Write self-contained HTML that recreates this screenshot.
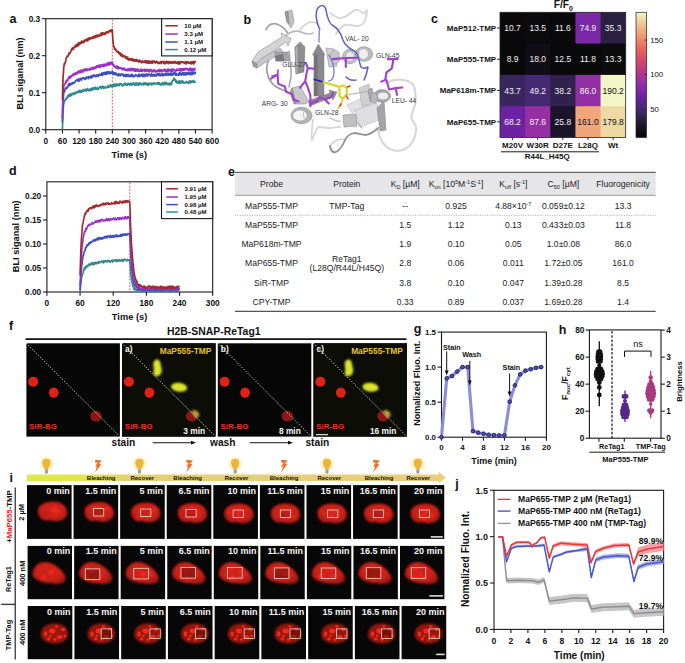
<!DOCTYPE html>
<html><head><meta charset="utf-8"><style>
html,body{margin:0;padding:0;background:#fff;}
svg{display:block;font-family:"Liberation Sans", sans-serif;}
</style></head><body>
<svg width="685" height="663" viewBox="0 0 685 663">
<defs>
<filter id="bl1" x="-50%" y="-50%" width="200%" height="200%"><feGaussianBlur stdDeviation="0.9"/></filter>
<radialGradient id="nucA" cx="0.5" cy="0.45" r="0.6"><stop offset="0" stop-color="#d8261c"/><stop offset="0.65" stop-color="#c82018"/><stop offset="1" stop-color="#961610"/></radialGradient>
<radialGradient id="nucC" cx="0.5" cy="0.5" r="0.6"><stop offset="0" stop-color="#a01a12"/><stop offset="0.75" stop-color="#921810"/><stop offset="1" stop-color="#6e100a"/></radialGradient>
<filter id="bl07" x="-50%" y="-50%" width="200%" height="200%"><feGaussianBlur stdDeviation="0.7"/></filter>
<filter id="bl05" x="-50%" y="-50%" width="200%" height="200%"><feGaussianBlur stdDeviation="0.6"/></filter>
</defs>
<rect width="685" height="663" fill="#fff"/>
<text x="9.6" y="22.6" font-size="12.5" font-weight="bold" text-anchor="start" fill="#111">a</text>
<rect x="45.8" y="18.7" width="166.3" height="110.99999999999999" fill="none" stroke="#1a1a1a" stroke-width="1.1"/>
<line x1="41.8" y1="129.7" x2="45.8" y2="129.7" stroke="#1a1a1a" stroke-width="1.1"/>
<text x="40.2" y="132.7" font-size="8.3" font-weight="bold" text-anchor="end" fill="#111">0.0</text>
<line x1="41.8" y1="92.69999999999999" x2="45.8" y2="92.69999999999999" stroke="#1a1a1a" stroke-width="1.1"/>
<text x="40.2" y="95.69999999999999" font-size="8.3" font-weight="bold" text-anchor="end" fill="#111">0.1</text>
<line x1="41.8" y1="55.69999999999999" x2="45.8" y2="55.69999999999999" stroke="#1a1a1a" stroke-width="1.1"/>
<text x="40.2" y="58.69999999999999" font-size="8.3" font-weight="bold" text-anchor="end" fill="#111">0.2</text>
<line x1="41.8" y1="18.69999999999999" x2="45.8" y2="18.69999999999999" stroke="#1a1a1a" stroke-width="1.1"/>
<text x="40.2" y="21.69999999999999" font-size="8.3" font-weight="bold" text-anchor="end" fill="#111">0.3</text>
<line x1="45.8" y1="129.7" x2="45.8" y2="133.5" stroke="#1a1a1a" stroke-width="1.1"/>
<text x="45.8" y="143.5" font-size="8.3" font-weight="bold" text-anchor="middle" fill="#111">0</text>
<line x1="62.42999999999999" y1="129.7" x2="62.42999999999999" y2="133.5" stroke="#1a1a1a" stroke-width="1.1"/>
<text x="62.42999999999999" y="143.5" font-size="8.3" font-weight="bold" text-anchor="middle" fill="#111">60</text>
<line x1="79.06" y1="129.7" x2="79.06" y2="133.5" stroke="#1a1a1a" stroke-width="1.1"/>
<text x="79.06" y="143.5" font-size="8.3" font-weight="bold" text-anchor="middle" fill="#111">120</text>
<line x1="95.69" y1="129.7" x2="95.69" y2="133.5" stroke="#1a1a1a" stroke-width="1.1"/>
<text x="95.69" y="143.5" font-size="8.3" font-weight="bold" text-anchor="middle" fill="#111">180</text>
<line x1="112.32" y1="129.7" x2="112.32" y2="133.5" stroke="#1a1a1a" stroke-width="1.1"/>
<text x="112.32" y="143.5" font-size="8.3" font-weight="bold" text-anchor="middle" fill="#111">240</text>
<line x1="128.95" y1="129.7" x2="128.95" y2="133.5" stroke="#1a1a1a" stroke-width="1.1"/>
<text x="128.95" y="143.5" font-size="8.3" font-weight="bold" text-anchor="middle" fill="#111">300</text>
<line x1="145.58" y1="129.7" x2="145.58" y2="133.5" stroke="#1a1a1a" stroke-width="1.1"/>
<text x="145.58" y="143.5" font-size="8.3" font-weight="bold" text-anchor="middle" fill="#111">360</text>
<line x1="162.20999999999998" y1="129.7" x2="162.20999999999998" y2="133.5" stroke="#1a1a1a" stroke-width="1.1"/>
<text x="162.20999999999998" y="143.5" font-size="8.3" font-weight="bold" text-anchor="middle" fill="#111">420</text>
<line x1="178.83999999999997" y1="129.7" x2="178.83999999999997" y2="133.5" stroke="#1a1a1a" stroke-width="1.1"/>
<text x="178.83999999999997" y="143.5" font-size="8.3" font-weight="bold" text-anchor="middle" fill="#111">480</text>
<line x1="195.46999999999997" y1="129.7" x2="195.46999999999997" y2="133.5" stroke="#1a1a1a" stroke-width="1.1"/>
<text x="195.46999999999997" y="143.5" font-size="8.3" font-weight="bold" text-anchor="middle" fill="#111">540</text>
<line x1="212.10000000000002" y1="129.7" x2="212.10000000000002" y2="133.5" stroke="#1a1a1a" stroke-width="1.1"/>
<text x="212.10000000000002" y="143.5" font-size="8.3" font-weight="bold" text-anchor="middle" fill="#111">600</text>
<text x="129.3" y="157.6" font-size="9.3" font-weight="bold" text-anchor="middle" fill="#111">Time (s)</text>
<text x="22.6" y="73.5" font-size="9.25" font-weight="bold" text-anchor="middle" fill="#111" transform="rotate(-90 22.6 73.5)">BLI siganal (nm)</text>
<line x1="112.32" y1="19.7" x2="112.32" y2="129.7" stroke="#e8403a" stroke-width="1" stroke-dasharray="1.6,1.6"/>
<path d="M62.43,129.70 L62.76,117.11 L63.10,110.42 L63.43,106.73 L63.76,102.96 L64.09,102.90 L64.43,100.66 L64.76,100.36 L65.09,100.58 L65.42,98.94 L65.76,99.74 L66.09,98.34 L66.42,98.94 L66.75,98.57 L67.09,97.41 L67.42,96.08 L67.75,97.63 L68.08,97.12 L68.42,95.83 L68.75,94.76 L69.08,95.50 L69.41,95.75 L69.75,94.05 L70.08,96.26 L70.41,93.97 L70.75,95.26 L71.08,95.47 L71.41,95.37 L71.74,94.71 L72.08,93.25 L72.41,94.74 L72.74,93.56 L73.07,93.28 L73.41,93.83 L73.74,93.25 L74.07,94.38 L74.40,94.27 L74.74,93.77 L75.07,92.43 L75.40,92.97 L75.73,93.16 L76.07,92.35 L76.40,92.59 L76.73,92.89 L77.06,91.51 L77.40,91.66 L77.73,92.75 L78.06,91.80 L78.39,91.84 L78.73,90.85 L79.06,91.14 L79.39,92.20 L79.73,90.33 L80.06,92.48 L80.39,91.62 L80.72,90.67 L81.06,92.16 L81.39,91.21 L81.72,92.30 L82.05,90.60 L82.39,90.27 L82.72,90.70 L83.05,89.84 L83.38,91.23 L83.72,90.17 L84.05,90.36 L84.38,90.33 L84.71,90.59 L85.05,89.52 L85.38,89.19 L85.71,90.34 L86.04,89.78 L86.38,91.28 L86.71,89.56 L87.04,89.63 L87.37,88.67 L87.71,89.05 L88.04,90.38 L88.37,90.06 L88.71,89.26 L89.04,90.87 L89.37,89.67 L89.70,90.37 L90.04,90.44 L90.37,90.53 L90.70,88.63 L91.03,90.23 L91.37,89.86 L91.70,89.43 L92.03,88.12 L92.36,90.11 L92.70,89.10 L93.03,88.78 L93.36,87.85 L93.69,87.96 L94.03,87.78 L94.36,89.24 L94.69,88.83 L95.02,88.91 L95.36,87.49 L95.69,87.24 L96.02,89.28 L96.36,89.15 L96.69,88.95 L97.02,88.89 L97.35,88.17 L97.69,87.85 L98.02,88.63 L98.35,89.24 L98.68,88.11 L99.02,88.18 L99.35,87.61 L99.68,86.55 L100.01,87.17 L100.35,87.57 L100.68,87.25 L101.01,87.04 L101.34,88.59 L101.68,86.34 L102.01,86.59 L102.34,86.29 L102.67,86.43 L103.01,87.42 L103.34,87.35 L103.67,88.05 L104.00,86.62 L104.34,88.05 L104.67,87.97 L105.00,87.55 L105.34,87.61 L105.67,87.09 L106.00,87.78 L106.33,87.86 L106.67,87.41 L107.00,87.48 L107.33,86.74 L107.66,87.56 L108.00,85.31 L108.33,85.92 L108.66,87.07 L108.99,86.74 L109.33,86.44 L109.66,86.34 L109.99,86.90 L110.32,84.97 L110.66,84.53 L110.99,85.84 L111.32,85.74 L111.65,86.71 L111.99,86.61 L112.32,85.93 L112.65,86.08 L112.99,84.58 L113.32,86.26 L113.65,86.58 L113.98,84.13 L114.32,85.19 L114.65,86.14 L114.98,85.07 L115.31,86.37 L115.65,85.04 L115.98,83.84 L116.31,84.11 L116.64,84.51 L116.98,85.60 L117.31,85.30 L117.64,85.79 L117.97,84.20 L118.31,84.79 L118.64,84.13 L118.97,85.26 L119.30,85.52 L119.64,83.97 L119.97,83.50 L120.30,83.82 L120.63,83.92 L120.97,83.87 L121.30,84.05 L121.63,85.36 L121.97,84.59 L122.30,84.99 L122.63,85.82 L122.96,85.80 L123.30,85.13 L123.63,85.17 L123.96,84.03 L124.29,83.33 L124.63,84.64 L124.96,83.36 L125.29,83.21 L125.62,83.28 L125.96,84.80 L126.29,85.16 L126.62,85.13 L126.95,85.19 L127.29,85.16 L127.62,84.06 L127.95,83.34 L128.28,83.48 L128.62,84.41 L128.95,83.95 L129.28,83.55 L129.62,85.40 L129.95,83.90 L130.28,83.24 L130.61,83.56 L130.95,83.63 L131.28,84.33 L131.61,85.10 L131.94,83.51 L132.28,84.68 L132.61,83.46 L132.94,83.01 L133.27,84.49 L133.61,84.47 L133.94,83.05 L134.27,83.62 L134.60,85.05 L134.94,85.15 L135.27,85.08 L135.60,83.12 L135.93,83.37 L136.27,85.07 L136.60,83.30 L136.93,82.90 L137.26,83.73 L137.60,84.52 L137.93,84.00 L138.26,85.07 L138.60,85.37 L138.93,82.88 L139.26,83.71 L139.59,84.02 L139.93,82.96 L140.26,84.25 L140.59,83.11 L140.92,83.22 L141.26,84.81 L141.59,84.70 L141.92,84.59 L142.25,84.72 L142.59,83.81 L142.92,84.66 L143.25,84.24 L143.58,84.98 L143.92,82.95 L144.25,84.39 L144.58,84.11 L144.91,83.78 L145.25,82.95 L145.58,84.19 L145.91,82.90 L146.25,83.97 L146.58,83.89 L146.91,83.91 L147.24,85.21 L147.58,84.11 L147.91,84.77 L148.24,85.23 L148.57,83.17 L148.91,84.79 L149.24,84.00 L149.57,83.35 L149.90,83.78 L150.24,84.37 L150.57,83.87 L150.90,83.77 L151.23,83.17 L151.57,84.92 L151.90,83.74 L152.23,84.54 L152.56,84.46 L152.90,83.17 L153.23,83.86 L153.56,83.71 L153.89,83.19 L154.23,82.79 L154.56,84.00 L154.89,83.56 L155.23,83.83 L155.56,83.81 L155.89,83.34 L156.22,83.96 L156.56,83.74 L156.89,83.88 L157.22,82.68 L157.55,83.30 L157.89,82.83 L158.22,82.66 L158.55,84.42 L158.88,83.64 L159.22,82.64 L159.55,82.91 L159.88,84.72 L160.21,84.76 L160.55,83.92 L160.88,84.88 L161.21,84.44 L161.54,84.86 L161.88,83.32 L162.21,83.01 L162.54,82.72 L162.88,84.64 L163.21,83.18 L163.54,83.32 L163.87,84.65 L164.21,82.73 L164.54,82.51 L164.87,84.44 L165.20,82.54 L165.54,83.97 L165.87,83.73 L166.20,82.43 L166.53,82.83 L166.87,84.56 L167.20,83.86 L167.53,83.64 L167.86,84.09 L168.20,84.46 L168.53,84.13 L168.86,83.08 L169.19,84.90 L169.53,83.51 L169.86,83.79 L170.19,84.86 L170.52,84.01 L170.86,83.18 L171.19,83.34 L171.52,84.28 L171.86,81.57 L172.19,81.64 L172.52,80.63 L172.85,80.83 L173.19,79.89 L173.52,80.11 L173.85,78.06 L174.18,79.50 L174.52,80.23 L174.85,79.98 L175.18,79.27 L175.51,80.04 L175.85,81.92 L176.18,82.52 L176.51,80.73 L176.84,81.76 L177.18,81.49 L177.51,83.10 L177.84,83.19 L178.17,81.56 L178.51,82.24 L178.84,83.15 L179.17,80.91 L179.51,81.69 L179.84,81.25 L180.17,83.11 L180.50,81.10 L180.84,83.14 L181.17,81.07 L181.50,82.13 L181.83,82.42 L182.17,81.86 L182.50,80.89 L182.83,82.59 L183.16,82.95 L183.50,81.91 L183.83,82.66 L184.16,82.99 L184.49,82.85 L184.83,83.13 L185.16,82.73 L185.49,82.44 L185.82,82.46 L186.16,81.28 L186.49,82.49 L186.82,81.94 L187.15,82.77 L187.49,82.33 L187.82,83.17 L188.15,82.57 L188.49,83.17 L188.82,81.31 L189.15,81.78 L189.48,82.71 L189.82,81.96 L190.15,80.77 L190.48,82.91 L190.81,81.06 L191.15,82.06 L191.48,81.89 L191.81,81.01 L192.14,82.14 L192.48,81.85 L192.81,81.37 L193.14,80.60 L193.47,82.26 L193.81,80.98 L194.14,81.31 L194.47,81.48 L194.80,82.08 L195.14,82.22 L195.47,82.98" fill="none" stroke="#2f8a90" stroke-width="1.7" stroke-linejoin="round"/>
<path d="M62.43,122.30 L62.76,106.28 L63.10,99.67 L63.43,96.07 L63.76,92.31 L64.09,92.35 L64.43,91.74 L64.76,91.27 L65.09,88.74 L65.42,88.15 L65.76,88.20 L66.09,88.76 L66.42,88.44 L66.75,87.91 L67.09,87.09 L67.42,87.51 L67.75,86.42 L68.08,86.56 L68.42,84.44 L68.75,84.11 L69.08,84.92 L69.41,85.43 L69.75,83.30 L70.08,84.74 L70.41,84.38 L70.75,85.07 L71.08,83.86 L71.41,83.40 L71.74,83.12 L72.08,83.70 L72.41,82.73 L72.74,83.84 L73.07,82.99 L73.41,83.26 L73.74,82.30 L74.07,83.06 L74.40,82.95 L74.74,82.07 L75.07,82.11 L75.40,81.05 L75.73,81.06 L76.07,80.35 L76.40,80.46 L76.73,80.18 L77.06,79.63 L77.40,80.78 L77.73,80.83 L78.06,79.00 L78.39,81.05 L78.73,79.45 L79.06,79.55 L79.39,81.00 L79.73,78.84 L80.06,78.59 L80.39,79.17 L80.72,78.79 L81.06,78.49 L81.39,80.14 L81.72,79.05 L82.05,79.00 L82.39,78.05 L82.72,78.04 L83.05,77.89 L83.38,78.42 L83.72,77.54 L84.05,77.99 L84.38,77.87 L84.71,78.99 L85.05,79.42 L85.38,79.07 L85.71,78.39 L86.04,78.97 L86.38,76.99 L86.71,77.63 L87.04,77.36 L87.37,77.29 L87.71,77.06 L88.04,77.48 L88.37,78.65 L88.71,76.52 L89.04,76.56 L89.37,77.12 L89.70,76.96 L90.04,76.56 L90.37,78.01 L90.70,76.20 L91.03,77.37 L91.37,77.75 L91.70,77.18 L92.03,75.90 L92.36,77.18 L92.70,75.72 L93.03,75.03 L93.36,76.20 L93.69,76.41 L94.03,76.09 L94.36,75.48 L94.69,75.19 L95.02,75.50 L95.36,75.36 L95.69,76.74 L96.02,76.49 L96.36,76.13 L96.69,74.79 L97.02,75.85 L97.35,75.09 L97.69,76.46 L98.02,76.26 L98.35,75.64 L98.68,74.52 L99.02,74.39 L99.35,74.36 L99.68,75.28 L100.01,74.62 L100.35,74.68 L100.68,74.60 L101.01,75.43 L101.34,73.34 L101.68,75.07 L102.01,72.97 L102.34,73.01 L102.67,75.31 L103.01,74.09 L103.34,73.08 L103.67,72.62 L104.00,73.89 L104.34,74.29 L104.67,74.36 L105.00,72.38 L105.34,74.21 L105.67,73.18 L106.00,74.24 L106.33,73.18 L106.67,71.99 L107.00,74.04 L107.33,72.18 L107.66,72.92 L108.00,71.86 L108.33,72.26 L108.66,73.41 L108.99,71.61 L109.33,72.60 L109.66,73.72 L109.99,73.70 L110.32,72.36 L110.66,72.39 L110.99,72.70 L111.32,73.05 L111.65,72.45 L111.99,72.44 L112.32,71.01 L112.65,73.77 L112.99,72.26 L113.32,72.34 L113.65,74.44 L113.98,72.54 L114.32,73.24 L114.65,72.88 L114.98,74.57 L115.31,74.45 L115.65,74.48 L115.98,72.98 L116.31,74.12 L116.64,74.78 L116.98,74.66 L117.31,75.12 L117.64,75.76 L117.97,75.68 L118.31,73.83 L118.64,75.31 L118.97,73.67 L119.30,75.49 L119.64,75.49 L119.97,74.90 L120.30,75.77 L120.63,75.34 L120.97,73.87 L121.30,74.09 L121.63,74.31 L121.97,74.81 L122.30,74.11 L122.63,74.07 L122.96,75.11 L123.30,74.70 L123.63,76.46 L123.96,74.72 L124.29,75.48 L124.63,74.72 L124.96,75.02 L125.29,75.97 L125.62,76.61 L125.96,74.35 L126.29,76.45 L126.62,75.57 L126.95,75.92 L127.29,76.06 L127.62,74.93 L127.95,74.33 L128.28,76.20 L128.62,75.19 L128.95,76.13 L129.28,75.46 L129.62,75.89 L129.95,76.47 L130.28,76.49 L130.61,76.37 L130.95,74.56 L131.28,75.61 L131.61,76.33 L131.94,74.55 L132.28,74.31 L132.61,75.72 L132.94,76.52 L133.27,76.38 L133.61,76.64 L133.94,75.98 L134.27,76.62 L134.60,76.23 L134.94,76.18 L135.27,75.37 L135.60,74.54 L135.93,74.88 L136.27,75.75 L136.60,75.74 L136.93,75.45 L137.26,75.82 L137.60,75.91 L137.93,76.62 L138.26,76.05 L138.60,74.26 L138.93,76.43 L139.26,75.44 L139.59,75.10 L139.93,74.49 L140.26,76.16 L140.59,76.00 L140.92,76.05 L141.26,75.65 L141.59,75.52 L141.92,74.19 L142.25,74.46 L142.59,74.38 L142.92,76.58 L143.25,76.54 L143.58,74.77 L143.92,74.28 L144.25,75.36 L144.58,75.06 L144.91,76.57 L145.25,75.54 L145.58,74.14 L145.91,74.39 L146.25,74.31 L146.58,73.99 L146.91,75.85 L147.24,76.20 L147.58,76.07 L147.91,75.11 L148.24,74.68 L148.57,74.00 L148.91,74.56 L149.24,74.74 L149.57,74.42 L149.90,75.21 L150.24,74.95 L150.57,76.26 L150.90,74.33 L151.23,75.74 L151.57,73.95 L151.90,74.64 L152.23,75.52 L152.56,75.96 L152.90,75.63 L153.23,74.62 L153.56,74.44 L153.89,75.95 L154.23,76.05 L154.56,74.86 L154.89,74.69 L155.23,75.19 L155.56,75.60 L155.89,74.61 L156.22,76.13 L156.56,75.36 L156.89,74.93 L157.22,73.63 L157.55,74.43 L157.89,73.80 L158.22,74.84 L158.55,75.45 L158.88,75.41 L159.22,73.55 L159.55,74.20 L159.88,75.21 L160.21,75.94 L160.55,74.69 L160.88,74.22 L161.21,74.87 L161.54,75.28 L161.88,74.20 L162.21,73.52 L162.54,75.32 L162.88,75.80 L163.21,75.00 L163.54,74.78 L163.87,74.09 L164.21,75.33 L164.54,73.76 L164.87,73.90 L165.20,74.49 L165.54,75.26 L165.87,73.26 L166.20,74.95 L166.53,73.62 L166.87,75.14 L167.20,75.15 L167.53,73.74 L167.86,74.93 L168.20,73.22 L168.53,74.39 L168.86,75.17 L169.19,75.06 L169.53,74.55 L169.86,73.89 L170.19,73.15 L170.52,75.21 L170.86,74.56 L171.19,75.01 L171.52,73.03 L171.86,75.17 L172.19,75.39 L172.52,75.36 L172.85,74.48 L173.19,73.16 L173.52,73.18 L173.85,73.56 L174.18,72.86 L174.52,73.02 L174.85,74.57 L175.18,74.92 L175.51,72.97 L175.85,73.45 L176.18,75.28 L176.51,73.63 L176.84,74.36 L177.18,74.36 L177.51,74.45 L177.84,74.86 L178.17,75.28 L178.51,74.55 L178.84,74.35 L179.17,72.77 L179.51,74.91 L179.84,72.72 L180.17,74.67 L180.50,74.27 L180.84,73.05 L181.17,73.04 L181.50,74.03 L181.83,75.01 L182.17,73.90 L182.50,74.15 L182.83,72.72 L183.16,74.59 L183.50,74.13 L183.83,72.74 L184.16,74.97 L184.49,73.97 L184.83,72.92 L185.16,73.02 L185.49,74.89 L185.82,74.89 L186.16,74.80 L186.49,72.57 L186.82,74.27 L187.15,72.99 L187.49,72.59 L187.82,74.02 L188.15,74.18 L188.49,72.39 L188.82,73.26 L189.15,74.17 L189.48,72.98 L189.82,74.00 L190.15,74.09 L190.48,74.78 L190.81,72.82 L191.15,72.39 L191.48,73.11 L191.81,72.30 L192.14,74.66 L192.48,74.11 L192.81,73.47 L193.14,72.21 L193.47,72.20 L193.81,73.66 L194.14,74.00 L194.47,73.52 L194.80,73.34 L195.14,72.20 L195.47,74.12" fill="none" stroke="#3d4fc0" stroke-width="1.7" stroke-linejoin="round"/>
<path d="M62.43,118.60 L62.76,101.44 L63.10,92.52 L63.43,88.62 L63.76,86.19 L64.09,84.96 L64.43,84.43 L64.76,84.40 L65.09,83.76 L65.42,83.06 L65.76,81.43 L66.09,82.73 L66.42,81.94 L66.75,80.04 L67.09,80.90 L67.42,80.96 L67.75,80.64 L68.08,78.91 L68.42,79.14 L68.75,77.09 L69.08,77.01 L69.41,76.42 L69.75,77.99 L70.08,78.17 L70.41,77.86 L70.75,76.55 L71.08,75.74 L71.41,76.18 L71.74,76.49 L72.08,75.79 L72.41,75.04 L72.74,74.69 L73.07,74.29 L73.41,73.84 L73.74,74.12 L74.07,75.34 L74.40,73.30 L74.74,74.54 L75.07,73.66 L75.40,74.00 L75.73,72.90 L76.07,74.14 L76.40,73.86 L76.73,73.72 L77.06,73.82 L77.40,71.78 L77.73,72.44 L78.06,72.96 L78.39,72.65 L78.73,70.98 L79.06,72.11 L79.39,72.70 L79.73,71.08 L80.06,71.37 L80.39,70.37 L80.72,72.56 L81.06,71.48 L81.39,70.48 L81.72,70.32 L82.05,70.02 L82.39,72.17 L82.72,71.41 L83.05,71.76 L83.38,71.47 L83.72,69.34 L84.05,70.25 L84.38,69.25 L84.71,70.60 L85.05,69.22 L85.38,70.20 L85.71,70.60 L86.04,69.16 L86.38,68.63 L86.71,70.71 L87.04,69.35 L87.37,69.19 L87.71,70.14 L88.04,69.66 L88.37,70.15 L88.71,69.90 L89.04,69.68 L89.37,68.69 L89.70,68.47 L90.04,69.54 L90.37,69.95 L90.70,69.04 L91.03,68.04 L91.37,69.23 L91.70,68.81 L92.03,69.00 L92.36,67.38 L92.70,67.94 L93.03,69.10 L93.36,68.92 L93.69,68.07 L94.03,67.58 L94.36,67.26 L94.69,68.60 L95.02,68.32 L95.36,66.86 L95.69,67.51 L96.02,67.75 L96.36,67.60 L96.69,65.84 L97.02,67.42 L97.35,66.67 L97.69,67.13 L98.02,66.89 L98.35,65.65 L98.68,65.22 L99.02,66.77 L99.35,67.12 L99.68,65.66 L100.01,66.93 L100.35,67.36 L100.68,64.95 L101.01,66.10 L101.34,64.99 L101.68,65.98 L102.01,64.66 L102.34,65.67 L102.67,66.36 L103.01,66.65 L103.34,65.18 L103.67,64.86 L104.00,64.08 L104.34,66.12 L104.67,64.66 L105.00,65.22 L105.34,64.79 L105.67,65.64 L106.00,65.20 L106.33,64.49 L106.67,63.36 L107.00,65.39 L107.33,64.32 L107.66,63.42 L108.00,62.92 L108.33,64.83 L108.66,64.92 L108.99,62.73 L109.33,62.56 L109.66,63.75 L109.99,64.78 L110.32,62.43 L110.66,63.74 L110.99,62.32 L111.32,62.97 L111.65,62.36 L111.99,63.99 L112.32,62.29 L112.65,64.64 L112.99,64.82 L113.32,64.16 L113.65,64.57 L113.98,66.54 L114.32,66.69 L114.65,66.42 L114.98,66.30 L115.31,66.80 L115.65,67.62 L115.98,67.44 L116.31,66.32 L116.64,66.00 L116.98,68.33 L117.31,67.09 L117.64,66.69 L117.97,68.66 L118.31,66.69 L118.64,68.65 L118.97,67.49 L119.30,67.71 L119.64,67.60 L119.97,68.52 L120.30,68.30 L120.63,67.96 L120.97,68.45 L121.30,67.92 L121.63,68.54 L121.97,68.63 L122.30,69.78 L122.63,68.30 L122.96,68.70 L123.30,69.42 L123.63,68.11 L123.96,68.13 L124.29,69.02 L124.63,69.80 L124.96,69.09 L125.29,70.09 L125.62,70.09 L125.96,69.36 L126.29,70.28 L126.62,69.42 L126.95,69.29 L127.29,70.55 L127.62,69.05 L127.95,70.52 L128.28,68.88 L128.62,68.80 L128.95,69.53 L129.28,70.75 L129.62,69.62 L129.95,69.98 L130.28,68.53 L130.61,70.67 L130.95,68.84 L131.28,68.51 L131.61,69.22 L131.94,69.04 L132.28,70.67 L132.61,68.66 L132.94,69.95 L133.27,68.78 L133.61,68.91 L133.94,70.88 L134.27,69.28 L134.60,68.94 L134.94,71.20 L135.27,70.48 L135.60,69.45 L135.93,71.02 L136.27,69.13 L136.60,70.76 L136.93,69.38 L137.26,71.14 L137.60,70.22 L137.93,69.16 L138.26,71.02 L138.60,70.89 L138.93,70.28 L139.26,70.78 L139.59,71.52 L139.93,71.16 L140.26,71.23 L140.59,69.23 L140.92,69.91 L141.26,69.37 L141.59,71.26 L141.92,69.68 L142.25,71.42 L142.59,70.36 L142.92,70.09 L143.25,70.82 L143.58,69.50 L143.92,70.33 L144.25,70.28 L144.58,69.50 L144.91,71.53 L145.25,69.24 L145.58,70.19 L145.91,70.80 L146.25,69.77 L146.58,71.15 L146.91,69.28 L147.24,70.36 L147.58,70.93 L147.91,69.89 L148.24,70.73 L148.57,71.42 L148.91,69.96 L149.24,71.77 L149.57,69.78 L149.90,71.25 L150.24,70.26 L150.57,69.37 L150.90,70.40 L151.23,70.21 L151.57,71.12 L151.90,71.93 L152.23,71.85 L152.56,71.56 L152.90,70.35 L153.23,70.83 L153.56,70.63 L153.89,69.64 L154.23,71.62 L154.56,71.38 L154.89,70.28 L155.23,71.92 L155.56,71.97 L155.89,71.06 L156.22,71.71 L156.56,71.06 L156.89,71.40 L157.22,70.46 L157.55,70.44 L157.89,71.42 L158.22,70.33 L158.55,70.70 L158.88,71.57 L159.22,69.48 L159.55,71.27 L159.88,71.50 L160.21,71.63 L160.55,70.21 L160.88,69.60 L161.21,69.82 L161.54,70.79 L161.88,71.14 L162.21,71.78 L162.54,70.13 L162.88,70.33 L163.21,70.87 L163.54,70.09 L163.87,70.60 L164.21,69.31 L164.54,69.83 L164.87,71.07 L165.20,69.36 L165.54,71.58 L165.87,70.30 L166.20,70.62 L166.53,71.04 L166.87,71.49 L167.20,69.61 L167.53,71.59 L167.86,70.18 L168.20,69.16 L168.53,71.21 L168.86,71.05 L169.19,69.98 L169.53,70.23 L169.86,69.87 L170.19,69.41 L170.52,71.06 L170.86,70.69 L171.19,70.71 L171.52,71.35 L171.86,69.16 L172.19,69.42 L172.52,69.58 L172.85,71.40 L173.19,69.22 L173.52,69.47 L173.85,70.18 L174.18,69.45 L174.52,70.19 L174.85,70.76 L175.18,71.06 L175.51,70.72 L175.85,71.21 L176.18,70.42 L176.51,69.34 L176.84,69.47 L177.18,69.07 L177.51,69.40 L177.84,70.54 L178.17,69.78 L178.51,70.07 L178.84,69.15 L179.17,69.82 L179.51,70.48 L179.84,69.49 L180.17,68.64 L180.50,70.56 L180.84,68.83 L181.17,71.06 L181.50,70.41 L181.83,70.46 L182.17,69.13 L182.50,68.60 L182.83,69.10 L183.16,70.18 L183.50,68.73 L183.83,70.15 L184.16,70.36 L184.49,68.62 L184.83,69.32 L185.16,69.15 L185.49,69.21 L185.82,68.38 L186.16,69.69 L186.49,68.72 L186.82,69.07 L187.15,68.64 L187.49,69.72 L187.82,68.96 L188.15,69.35 L188.49,70.02 L188.82,70.25 L189.15,69.17 L189.48,70.57 L189.82,68.40 L190.15,70.37 L190.48,70.66 L190.81,70.44 L191.15,68.30 L191.48,69.80 L191.81,70.31 L192.14,70.59 L192.48,70.55 L192.81,68.85 L193.14,68.99 L193.47,68.81 L193.81,68.69 L194.14,70.42 L194.47,69.05 L194.80,69.62 L195.14,68.43 L195.47,68.41" fill="none" stroke="#9a30c8" stroke-width="1.7" stroke-linejoin="round"/>
<path d="M62.43,100.10 L62.76,85.45 L63.10,75.87 L63.43,72.81 L63.76,67.41 L64.09,65.01 L64.43,63.25 L64.76,64.08 L65.09,62.70 L65.42,61.96 L65.76,61.26 L66.09,58.31 L66.42,57.62 L66.75,57.34 L67.09,56.14 L67.42,55.97 L67.75,56.22 L68.08,56.10 L68.42,55.52 L68.75,53.25 L69.08,54.14 L69.41,53.33 L69.75,52.57 L70.08,53.14 L70.41,52.07 L70.75,51.57 L71.08,50.02 L71.41,50.52 L71.74,50.25 L72.08,48.21 L72.41,49.04 L72.74,47.79 L73.07,48.06 L73.41,49.26 L73.74,47.95 L74.07,47.59 L74.40,46.42 L74.74,47.24 L75.07,46.04 L75.40,46.21 L75.73,46.78 L76.07,44.86 L76.40,46.61 L76.73,44.48 L77.06,45.93 L77.40,46.14 L77.73,45.40 L78.06,43.74 L78.39,42.97 L78.73,45.29 L79.06,43.83 L79.39,43.63 L79.73,42.65 L80.06,44.04 L80.39,43.06 L80.72,43.26 L81.06,41.82 L81.39,43.13 L81.72,41.19 L82.05,42.73 L82.39,42.74 L82.72,41.32 L83.05,41.68 L83.38,42.53 L83.72,41.01 L84.05,42.29 L84.38,40.31 L84.71,40.39 L85.05,40.01 L85.38,40.27 L85.71,40.83 L86.04,40.57 L86.38,40.44 L86.71,39.02 L87.04,40.96 L87.37,38.74 L87.71,40.84 L88.04,40.23 L88.37,39.95 L88.71,38.16 L89.04,39.06 L89.37,39.24 L89.70,37.80 L90.04,39.35 L90.37,38.63 L90.70,38.32 L91.03,37.61 L91.37,37.49 L91.70,37.63 L92.03,38.28 L92.36,38.20 L92.70,38.52 L93.03,36.61 L93.36,36.95 L93.69,36.62 L94.03,37.98 L94.36,37.15 L94.69,36.16 L95.02,36.54 L95.36,37.59 L95.69,36.59 L96.02,35.37 L96.36,36.93 L96.69,36.92 L97.02,36.52 L97.35,35.35 L97.69,34.87 L98.02,36.53 L98.35,36.40 L98.68,36.04 L99.02,35.72 L99.35,35.09 L99.68,35.90 L100.01,35.35 L100.35,35.58 L100.68,33.43 L101.01,33.94 L101.34,35.45 L101.68,33.10 L102.01,35.21 L102.34,34.35 L102.67,32.68 L103.01,33.05 L103.34,33.09 L103.67,33.74 L104.00,34.24 L104.34,32.97 L104.67,34.23 L105.00,33.85 L105.34,33.26 L105.67,34.06 L106.00,32.99 L106.33,31.86 L106.67,31.99 L107.00,32.37 L107.33,31.91 L107.66,32.23 L108.00,32.94 L108.33,31.62 L108.66,32.02 L108.99,31.03 L109.33,30.48 L109.66,31.59 L109.99,31.10 L110.32,30.53 L110.66,31.26 L110.99,31.64 L111.32,30.24 L111.65,29.71 L111.99,29.87 L112.32,29.94 L112.65,36.74 L112.99,41.35 L113.32,43.94 L113.65,46.00 L113.98,47.43 L114.32,47.39 L114.65,49.37 L114.98,49.05 L115.31,48.57 L115.65,49.18 L115.98,49.79 L116.31,51.15 L116.64,51.07 L116.98,51.33 L117.31,51.24 L117.64,52.12 L117.97,51.75 L118.31,51.40 L118.64,53.63 L118.97,52.70 L119.30,52.67 L119.64,53.95 L119.97,53.95 L120.30,52.95 L120.63,55.63 L120.97,54.56 L121.30,55.79 L121.63,54.41 L121.97,54.22 L122.30,55.53 L122.63,56.82 L122.96,55.80 L123.30,56.08 L123.63,55.81 L123.96,56.53 L124.29,56.38 L124.63,56.06 L124.96,57.03 L125.29,57.48 L125.62,56.25 L125.96,58.32 L126.29,57.24 L126.62,58.14 L126.95,57.32 L127.29,59.12 L127.62,57.02 L127.95,58.78 L128.28,59.68 L128.62,59.23 L128.95,59.03 L129.28,60.14 L129.62,59.20 L129.95,59.31 L130.28,58.69 L130.61,59.69 L130.95,60.01 L131.28,60.22 L131.61,58.97 L131.94,58.55 L132.28,59.70 L132.61,60.59 L132.94,59.16 L133.27,60.30 L133.61,60.84 L133.94,61.13 L134.27,59.53 L134.60,59.52 L134.94,60.04 L135.27,60.53 L135.60,60.36 L135.93,61.29 L136.27,59.44 L136.60,61.08 L136.93,60.40 L137.26,59.99 L137.60,60.05 L137.93,61.00 L138.26,61.50 L138.60,60.90 L138.93,62.04 L139.26,60.25 L139.59,61.54 L139.93,60.30 L140.26,61.85 L140.59,61.61 L140.92,61.97 L141.26,61.56 L141.59,62.22 L141.92,62.73 L142.25,60.90 L142.59,62.08 L142.92,62.21 L143.25,62.09 L143.58,61.66 L143.92,61.83 L144.25,61.32 L144.58,61.29 L144.91,62.08 L145.25,60.64 L145.58,60.86 L145.91,62.95 L146.25,60.98 L146.58,60.81 L146.91,61.14 L147.24,62.83 L147.58,61.07 L147.91,61.60 L148.24,63.22 L148.57,63.25 L148.91,60.84 L149.24,61.62 L149.57,62.69 L149.90,63.09 L150.24,63.00 L150.57,62.79 L150.90,61.40 L151.23,62.53 L151.57,63.04 L151.90,61.11 L152.23,61.42 L152.56,63.05 L152.90,61.19 L153.23,61.93 L153.56,61.50 L153.89,61.80 L154.23,61.23 L154.56,61.52 L154.89,61.40 L155.23,63.07 L155.56,61.80 L155.89,62.23 L156.22,61.69 L156.56,62.48 L156.89,61.34 L157.22,62.20 L157.55,62.96 L157.89,63.05 L158.22,63.30 L158.55,62.40 L158.88,63.53 L159.22,62.48 L159.55,63.32 L159.88,62.43 L160.21,62.42 L160.55,62.32 L160.88,61.49 L161.21,63.71 L161.54,61.56 L161.88,62.53 L162.21,62.29 L162.54,62.03 L162.88,61.58 L163.21,62.79 L163.54,62.69 L163.87,61.29 L164.21,63.59 L164.54,62.14 L164.87,62.14 L165.20,63.72 L165.54,62.22 L165.87,62.04 L166.20,61.40 L166.53,62.96 L166.87,61.27 L167.20,62.50 L167.53,62.57 L167.86,61.50 L168.20,63.74 L168.53,61.97 L168.86,62.22 L169.19,62.96 L169.53,61.61 L169.86,62.90 L170.19,62.62 L170.52,62.49 L170.86,61.86 L171.19,63.31 L171.52,62.73 L171.86,62.77 L172.19,62.43 L172.52,61.72 L172.85,63.11 L173.19,61.73 L173.52,62.83 L173.85,62.57 L174.18,63.17 L174.52,62.57 L174.85,61.36 L175.18,62.19 L175.51,61.83 L175.85,63.03 L176.18,63.07 L176.51,63.11 L176.84,62.37 L177.18,62.25 L177.51,61.86 L177.84,63.79 L178.17,62.02 L178.51,61.60 L178.84,62.49 L179.17,63.77 L179.51,63.12 L179.84,63.89 L180.17,63.41 L180.50,61.52 L180.84,62.33 L181.17,62.20 L181.50,61.86 L181.83,61.55 L182.17,62.33 L182.50,62.31 L182.83,62.29 L183.16,62.11 L183.50,62.37 L183.83,62.15 L184.16,63.37 L184.49,62.19 L184.83,62.73 L185.16,61.94 L185.49,63.66 L185.82,63.45 L186.16,63.82 L186.49,61.91 L186.82,61.55 L187.15,62.22 L187.49,62.97 L187.82,61.79 L188.15,61.89 L188.49,62.47 L188.82,63.26 L189.15,63.14 L189.48,62.83 L189.82,63.10 L190.15,62.81 L190.48,62.27 L190.81,61.51 L191.15,63.79 L191.48,62.46 L191.81,63.83 L192.14,63.62 L192.48,61.83 L192.81,62.44 L193.14,61.55 L193.47,62.77 L193.81,63.89 L194.14,62.93 L194.47,62.40 L194.80,61.50 L195.14,61.39 L195.47,62.70" fill="none" stroke="#a3282a" stroke-width="1.7" stroke-linejoin="round"/>
<rect x="161.6" y="18.7" width="50.5" height="37.2" fill="#fff" stroke="#1a1a1a" stroke-width="1.1"/>
<line x1="165.3" y1="25.8" x2="177.8" y2="25.8" stroke="#a3282a" stroke-width="1.5"/>
<text x="184.3" y="28.1" font-size="6.1" font-weight="bold" text-anchor="start" fill="#111">10 µM</text>
<line x1="165.3" y1="34.0" x2="177.8" y2="34.0" stroke="#9a30c8" stroke-width="1.5"/>
<text x="184.3" y="36.3" font-size="6.1" font-weight="bold" text-anchor="start" fill="#111">3.3 µM</text>
<line x1="165.3" y1="42.0" x2="177.8" y2="42.0" stroke="#3d4fc0" stroke-width="1.5"/>
<text x="184.3" y="44.3" font-size="6.1" font-weight="bold" text-anchor="start" fill="#111">1.1 µM</text>
<line x1="165.3" y1="49.6" x2="177.8" y2="49.6" stroke="#2f8a90" stroke-width="1.5"/>
<text x="184.3" y="51.9" font-size="6.1" font-weight="bold" text-anchor="start" fill="#111">0.12 µM</text>
<text x="9.0" y="175.2" font-size="12.5" font-weight="bold" text-anchor="start" fill="#111">d</text>
<rect x="46.9" y="181.8" width="165.79999999999998" height="110.19999999999999" fill="none" stroke="#1a1a1a" stroke-width="1.1"/>
<line x1="42.9" y1="292.0" x2="46.9" y2="292.0" stroke="#1a1a1a" stroke-width="1.1"/>
<text x="41.2" y="295.0" font-size="8.3" font-weight="bold" text-anchor="end" fill="#111">0.00</text>
<line x1="42.9" y1="268.0" x2="46.9" y2="268.0" stroke="#1a1a1a" stroke-width="1.1"/>
<text x="41.2" y="271.0" font-size="8.3" font-weight="bold" text-anchor="end" fill="#111">0.05</text>
<line x1="42.9" y1="244.0" x2="46.9" y2="244.0" stroke="#1a1a1a" stroke-width="1.1"/>
<text x="41.2" y="247.0" font-size="8.3" font-weight="bold" text-anchor="end" fill="#111">0.10</text>
<line x1="42.9" y1="220.0" x2="46.9" y2="220.0" stroke="#1a1a1a" stroke-width="1.1"/>
<text x="41.2" y="223.0" font-size="8.3" font-weight="bold" text-anchor="end" fill="#111">0.15</text>
<line x1="42.9" y1="196.0" x2="46.9" y2="196.0" stroke="#1a1a1a" stroke-width="1.1"/>
<text x="41.2" y="199.0" font-size="8.3" font-weight="bold" text-anchor="end" fill="#111">0.20</text>
<line x1="46.9" y1="292.0" x2="46.9" y2="295.8" stroke="#1a1a1a" stroke-width="1.1"/>
<text x="46.9" y="306" font-size="8.3" font-weight="bold" text-anchor="middle" fill="#111">0</text>
<line x1="80.06" y1="292.0" x2="80.06" y2="295.8" stroke="#1a1a1a" stroke-width="1.1"/>
<text x="80.06" y="306" font-size="8.3" font-weight="bold" text-anchor="middle" fill="#111">60</text>
<line x1="113.22" y1="292.0" x2="113.22" y2="295.8" stroke="#1a1a1a" stroke-width="1.1"/>
<text x="113.22" y="306" font-size="8.3" font-weight="bold" text-anchor="middle" fill="#111">120</text>
<line x1="146.38" y1="292.0" x2="146.38" y2="295.8" stroke="#1a1a1a" stroke-width="1.1"/>
<text x="146.38" y="306" font-size="8.3" font-weight="bold" text-anchor="middle" fill="#111">180</text>
<line x1="179.54" y1="292.0" x2="179.54" y2="295.8" stroke="#1a1a1a" stroke-width="1.1"/>
<text x="179.54" y="306" font-size="8.3" font-weight="bold" text-anchor="middle" fill="#111">240</text>
<line x1="212.7" y1="292.0" x2="212.7" y2="295.8" stroke="#1a1a1a" stroke-width="1.1"/>
<text x="212.7" y="306" font-size="8.3" font-weight="bold" text-anchor="middle" fill="#111">300</text>
<text x="129.6" y="319.5" font-size="9.3" font-weight="bold" text-anchor="middle" fill="#111">Time (s)</text>
<text x="18.9" y="236.3" font-size="9.25" font-weight="bold" text-anchor="middle" fill="#111" transform="rotate(-90 18.9 236.3)">BLI siganal (nm)</text>
<line x1="129.79999999999998" y1="182.8" x2="129.79999999999998" y2="292.0" stroke="#e8403a" stroke-width="1" stroke-dasharray="1.6,1.6"/>
<path d="M80.06,292.00 L80.45,287.29 L80.83,283.69 L81.22,281.34 L81.61,277.52 L81.99,276.49 L82.38,274.93 L82.77,273.85 L83.15,272.71 L83.54,270.10 L83.93,270.62 L84.32,267.88 L84.70,269.38 L85.09,266.98 L85.48,268.30 L85.86,268.16 L86.25,266.12 L86.64,266.95 L87.02,265.48 L87.41,266.53 L87.80,266.62 L88.18,264.67 L88.57,264.61 L88.96,264.08 L89.34,264.21 L89.73,265.59 L90.12,264.14 L90.51,263.80 L90.89,264.26 L91.28,263.00 L91.67,264.50 L92.05,262.68 L92.44,263.17 L92.83,264.76 L93.21,264.65 L93.60,263.02 L93.99,262.53 L94.37,264.22 L94.76,263.58 L95.15,262.49 L95.53,263.77 L95.92,262.02 L96.31,262.85 L96.70,263.80 L97.08,263.00 L97.47,262.44 L97.86,262.70 L98.24,262.07 L98.63,263.29 L99.02,261.67 L99.40,262.65 L99.79,261.92 L100.18,261.91 L100.56,262.36 L100.95,262.39 L101.34,261.38 L101.72,260.96 L102.11,261.30 L102.50,261.77 L102.89,262.39 L103.27,262.90 L103.66,260.67 L104.05,261.28 L104.43,260.94 L104.82,262.09 L105.21,261.39 L105.59,260.46 L105.98,260.78 L106.37,261.29 L106.75,261.96 L107.14,261.64 L107.53,260.50 L107.91,261.69 L108.30,260.92 L108.69,261.08 L109.08,260.34 L109.46,260.52 L109.85,261.75 L110.24,262.39 L110.62,261.73 L111.01,261.32 L111.40,260.89 L111.78,260.31 L112.17,260.11 L112.56,262.10 L112.94,260.18 L113.33,260.20 L113.72,260.03 L114.10,260.71 L114.49,261.40 L114.88,259.98 L115.26,260.06 L115.65,260.32 L116.04,259.75 L116.43,261.08 L116.81,261.68 L117.20,260.52 L117.59,259.91 L117.97,261.31 L118.36,259.97 L118.75,259.50 L119.13,261.15 L119.52,260.22 L119.91,260.03 L120.29,260.51 L120.68,261.10 L121.07,260.96 L121.45,259.74 L121.84,259.61 L122.23,260.38 L122.62,261.25 L123.00,259.49 L123.39,259.55 L123.78,260.82 L124.16,259.96 L124.55,259.17 L124.94,259.17 L125.32,260.01 L125.71,260.09 L126.10,259.80 L126.48,260.73 L126.87,260.69 L127.26,260.69 L127.64,259.42 L128.03,260.20 L128.42,259.69 L128.81,260.05 L129.19,259.75 L129.58,260.61 L129.97,263.77 L130.35,267.29 L130.74,273.38 L131.13,277.66 L131.51,279.28 L131.90,281.19 L132.29,284.51 L132.67,284.88 L133.06,286.62 L133.45,287.10 L133.83,289.01 L134.22,289.54 L134.61,287.69 L135.00,288.34 L135.38,289.53 L135.77,289.56 L136.16,290.47 L136.54,289.36 L136.93,290.32 L137.32,289.16 L137.70,289.66 L138.09,289.59 L138.48,289.28 L138.86,291.02 L139.25,291.57 L139.64,291.20 L140.02,291.26 L140.41,291.51 L140.80,291.60 L141.18,290.39 L141.57,289.64 L141.96,290.64 L142.35,289.47 L142.73,289.56 L143.12,291.60 L143.51,290.32 L143.89,290.80 L144.28,291.47 L144.67,289.45 L145.05,291.14 L145.44,290.40 L145.83,290.22 L146.21,289.46 L146.60,290.15 L146.99,290.82 L147.37,290.68 L147.76,291.38 L148.15,289.44 L148.54,289.38 L148.92,291.23 L149.31,291.67 L149.70,291.15 L150.08,290.92 L150.47,289.59 L150.86,289.59 L151.24,289.75 L151.63,291.65 L152.02,289.87 L152.40,290.06 L152.79,290.21 L153.18,289.39 L153.56,291.63 L153.95,291.41 L154.34,289.95 L154.73,289.51 L155.11,290.14 L155.50,291.04 L155.89,290.34 L156.27,289.94 L156.66,291.51 L157.05,290.98 L157.43,291.14 L157.82,291.46 L158.21,290.60 L158.59,291.36 L158.98,291.19 L159.37,291.42 L159.75,290.13 L160.14,291.73 L160.53,290.04 L160.92,291.29 L161.30,291.67 L161.69,289.53 L162.08,291.23 L162.46,289.52 L162.85,289.68 L163.24,289.63 L163.62,291.42 L164.01,290.69 L164.40,291.53 L164.78,289.53 L165.17,289.74 L165.56,290.25 L165.94,290.67 L166.33,290.94 L166.72,289.78 L167.10,290.61 L167.49,290.25 L167.88,291.42 L168.27,291.23 L168.65,291.62 L169.04,290.05 L169.43,290.43 L169.81,291.41 L170.20,289.67 L170.59,291.12 L170.97,290.77 L171.36,291.39 L171.75,291.11 L172.13,289.75 L172.52,290.96 L172.91,291.36 L173.29,290.58 L173.68,291.00 L174.07,289.59 L174.46,291.49 L174.84,289.41 L175.23,291.62 L175.62,289.61 L176.00,290.16 L176.39,291.25 L176.78,290.61 L177.16,291.07 L177.55,291.14 L177.94,291.28 L178.32,290.89 L178.71,289.38 L179.10,289.36 L179.48,289.54" fill="none" stroke="#2f8a90" stroke-width="1.6" stroke-linejoin="round"/>
<path d="M80.06,290.08 L80.45,282.82 L80.83,277.74 L81.22,272.24 L81.61,266.56 L81.99,265.02 L82.38,260.43 L82.77,258.94 L83.15,255.15 L83.54,255.62 L83.93,252.15 L84.32,251.91 L84.70,251.22 L85.09,250.53 L85.48,247.63 L85.86,247.57 L86.25,247.68 L86.64,246.45 L87.02,244.74 L87.41,245.89 L87.80,244.58 L88.18,245.19 L88.57,244.69 L88.96,242.91 L89.34,242.71 L89.73,243.63 L90.12,243.62 L90.51,243.32 L90.89,241.81 L91.28,241.83 L91.67,242.13 L92.05,242.07 L92.44,240.88 L92.83,240.45 L93.21,240.01 L93.60,240.38 L93.99,241.11 L94.37,241.27 L94.76,239.51 L95.15,240.13 L95.53,239.23 L95.92,240.69 L96.31,238.73 L96.70,239.74 L97.08,238.40 L97.47,238.22 L97.86,238.99 L98.24,240.02 L98.63,237.76 L99.02,238.69 L99.40,237.64 L99.79,238.99 L100.18,239.08 L100.56,237.44 L100.95,238.46 L101.34,238.86 L101.72,238.27 L102.11,237.65 L102.50,238.99 L102.89,237.67 L103.27,237.77 L103.66,237.52 L104.05,238.40 L104.43,236.90 L104.82,236.59 L105.21,236.40 L105.59,237.64 L105.98,236.64 L106.37,237.36 L106.75,236.41 L107.14,238.01 L107.53,236.00 L107.91,235.74 L108.30,236.79 L108.69,236.69 L109.08,236.59 L109.46,236.52 L109.85,237.71 L110.24,235.38 L110.62,237.11 L111.01,237.16 L111.40,237.30 L111.78,236.90 L112.17,235.49 L112.56,237.33 L112.94,237.12 L113.33,235.63 L113.72,236.79 L114.10,237.17 L114.49,235.73 L114.88,235.74 L115.26,235.83 L115.65,235.35 L116.04,236.75 L116.43,234.87 L116.81,235.19 L117.20,236.76 L117.59,236.53 L117.97,235.60 L118.36,235.54 L118.75,236.03 L119.13,236.37 L119.52,235.65 L119.91,236.26 L120.29,235.13 L120.68,234.44 L121.07,236.11 L121.45,235.05 L121.84,234.60 L122.23,235.96 L122.62,234.33 L123.00,234.03 L123.39,235.31 L123.78,235.19 L124.16,234.15 L124.55,234.87 L124.94,235.14 L125.32,233.80 L125.71,234.15 L126.10,235.17 L126.48,235.37 L126.87,235.10 L127.26,234.83 L127.64,233.48 L128.03,233.87 L128.42,233.57 L128.81,233.77 L129.19,233.66 L129.58,235.53 L129.97,238.93 L130.35,247.05 L130.74,254.62 L131.13,262.41 L131.51,267.04 L131.90,270.66 L132.29,274.68 L132.67,277.04 L133.06,280.41 L133.45,281.39 L133.83,282.74 L134.22,285.14 L134.61,285.87 L135.00,284.71 L135.38,285.86 L135.77,286.03 L136.16,287.22 L136.54,287.17 L136.93,287.29 L137.32,287.54 L137.70,289.79 L138.09,288.50 L138.48,289.54 L138.86,288.66 L139.25,289.73 L139.64,289.16 L140.02,288.30 L140.41,289.08 L140.80,290.01 L141.18,289.40 L141.57,289.63 L141.96,288.42 L142.35,290.03 L142.73,290.00 L143.12,289.19 L143.51,290.46 L143.89,289.34 L144.28,288.47 L144.67,289.54 L145.05,290.14 L145.44,289.66 L145.83,289.50 L146.21,290.43 L146.60,290.49 L146.99,290.48 L147.37,290.09 L147.76,289.82 L148.15,290.10 L148.54,290.21 L148.92,290.59 L149.31,289.49 L149.70,288.78 L150.08,289.33 L150.47,289.43 L150.86,289.24 L151.24,290.32 L151.63,289.09 L152.02,289.69 L152.40,289.48 L152.79,289.33 L153.18,289.67 L153.56,290.05 L153.95,290.22 L154.34,290.27 L154.73,289.57 L155.11,289.88 L155.50,289.39 L155.89,290.77 L156.27,289.95 L156.66,288.73 L157.05,290.23 L157.43,289.46 L157.82,289.62 L158.21,290.12 L158.59,288.43 L158.98,290.09 L159.37,288.95 L159.75,290.42 L160.14,290.64 L160.53,288.71 L160.92,289.74 L161.30,290.65 L161.69,289.87 L162.08,289.74 L162.46,289.04 L162.85,290.54 L163.24,290.26 L163.62,288.50 L164.01,289.03 L164.40,290.43 L164.78,289.99 L165.17,289.95 L165.56,289.18 L165.94,289.32 L166.33,288.76 L166.72,288.83 L167.10,289.56 L167.49,289.03 L167.88,289.02 L168.27,288.98 L168.65,289.66 L169.04,288.92 L169.43,289.10 L169.81,288.60 L170.20,290.49 L170.59,288.71 L170.97,290.79 L171.36,288.96 L171.75,289.39 L172.13,289.61 L172.52,288.49 L172.91,289.43 L173.29,289.80 L173.68,288.92 L174.07,288.71 L174.46,289.34 L174.84,289.89 L175.23,289.71 L175.62,289.70 L176.00,289.06 L176.39,290.10 L176.78,289.86 L177.16,289.47 L177.55,289.88 L177.94,290.03 L178.32,288.91 L178.71,288.76 L179.10,289.60 L179.48,289.73" fill="none" stroke="#3d4fc0" stroke-width="1.6" stroke-linejoin="round"/>
<path d="M80.06,286.24 L80.45,275.02 L80.83,266.77 L81.22,259.24 L81.61,253.78 L81.99,248.02 L82.38,244.16 L82.77,242.21 L83.15,237.64 L83.54,236.94 L83.93,233.93 L84.32,232.47 L84.70,230.94 L85.09,231.70 L85.48,230.27 L85.86,228.33 L86.25,229.81 L86.64,229.12 L87.02,227.35 L87.41,227.04 L87.80,225.60 L88.18,225.56 L88.57,225.77 L88.96,224.34 L89.34,225.20 L89.73,224.92 L90.12,224.25 L90.51,224.71 L90.89,224.56 L91.28,223.77 L91.67,224.15 L92.05,222.52 L92.44,222.98 L92.83,223.17 L93.21,224.02 L93.60,223.20 L93.99,222.98 L94.37,222.45 L94.76,222.27 L95.15,221.40 L95.53,221.07 L95.92,222.09 L96.31,222.08 L96.70,221.52 L97.08,220.52 L97.47,221.97 L97.86,221.42 L98.24,220.63 L98.63,222.09 L99.02,221.64 L99.40,219.96 L99.79,220.24 L100.18,220.91 L100.56,221.79 L100.95,219.83 L101.34,220.24 L101.72,219.85 L102.11,219.37 L102.50,219.55 L102.89,220.60 L103.27,221.17 L103.66,220.78 L104.05,220.19 L104.43,220.14 L104.82,220.84 L105.21,220.79 L105.59,219.66 L105.98,219.67 L106.37,220.22 L106.75,218.63 L107.14,219.43 L107.53,220.81 L107.91,219.87 L108.30,218.92 L108.69,220.02 L109.08,219.05 L109.46,220.65 L109.85,219.89 L110.24,218.55 L110.62,219.12 L111.01,218.88 L111.40,219.97 L111.78,219.20 L112.17,219.03 L112.56,219.68 L112.94,218.72 L113.33,218.96 L113.72,217.80 L114.10,218.78 L114.49,219.13 L114.88,219.79 L115.26,219.66 L115.65,218.18 L116.04,219.71 L116.43,219.69 L116.81,219.48 L117.20,218.60 L117.59,217.84 L117.97,218.31 L118.36,217.81 L118.75,219.56 L119.13,219.65 L119.52,217.79 L119.91,218.83 L120.29,217.86 L120.68,218.69 L121.07,219.10 L121.45,218.83 L121.84,219.20 L122.23,217.24 L122.62,217.98 L123.00,218.50 L123.39,218.23 L123.78,218.35 L124.16,219.11 L124.55,217.07 L124.94,217.78 L125.32,216.84 L125.71,218.06 L126.10,217.59 L126.48,218.45 L126.87,218.91 L127.26,216.75 L127.64,216.90 L128.03,218.16 L128.42,216.73 L128.81,216.90 L129.19,218.10 L129.58,217.35 L129.97,221.61 L130.35,233.31 L130.74,241.10 L131.13,250.26 L131.51,256.16 L131.90,260.63 L132.29,266.24 L132.67,269.73 L133.06,271.48 L133.45,275.03 L133.83,276.48 L134.22,279.64 L134.61,281.35 L135.00,282.20 L135.38,283.70 L135.77,282.73 L136.16,285.13 L136.54,285.13 L136.93,286.74 L137.32,286.19 L137.70,286.92 L138.09,287.20 L138.48,288.28 L138.86,288.37 L139.25,286.87 L139.64,288.17 L140.02,288.56 L140.41,288.80 L140.80,288.67 L141.18,288.86 L141.57,289.41 L141.96,287.96 L142.35,288.78 L142.73,289.26 L143.12,287.97 L143.51,289.47 L143.89,289.07 L144.28,287.73 L144.67,289.45 L145.05,288.70 L145.44,287.77 L145.83,287.86 L146.21,289.42 L146.60,288.96 L146.99,288.08 L147.37,288.91 L147.76,287.52 L148.15,289.32 L148.54,287.54 L148.92,288.62 L149.31,289.28 L149.70,288.74 L150.08,289.52 L150.47,288.14 L150.86,289.21 L151.24,287.68 L151.63,288.43 L152.02,288.95 L152.40,289.25 L152.79,288.38 L153.18,289.33 L153.56,287.74 L153.95,289.54 L154.34,288.61 L154.73,288.54 L155.11,289.19 L155.50,287.99 L155.89,288.92 L156.27,288.26 L156.66,288.48 L157.05,289.09 L157.43,288.90 L157.82,289.63 L158.21,289.41 L158.59,287.80 L158.98,289.07 L159.37,288.25 L159.75,289.58 L160.14,288.49 L160.53,288.97 L160.92,288.64 L161.30,289.13 L161.69,289.68 L162.08,289.09 L162.46,289.30 L162.85,289.54 L163.24,288.12 L163.62,289.16 L164.01,288.87 L164.40,287.66 L164.78,287.98 L165.17,287.72 L165.56,287.77 L165.94,289.52 L166.33,289.18 L166.72,289.77 L167.10,288.21 L167.49,288.25 L167.88,289.00 L168.27,288.85 L168.65,288.26 L169.04,288.16 L169.43,289.24 L169.81,287.81 L170.20,288.99 L170.59,288.33 L170.97,289.40 L171.36,289.56 L171.75,287.65 L172.13,288.08 L172.52,288.13 L172.91,289.74 L173.29,289.74 L173.68,289.45 L174.07,289.36 L174.46,289.11 L174.84,288.93 L175.23,289.75 L175.62,289.09 L176.00,288.31 L176.39,289.41 L176.78,287.83 L177.16,288.47 L177.55,288.12 L177.94,289.23 L178.32,288.80 L178.71,288.20 L179.10,289.00 L179.48,289.84" fill="none" stroke="#9a30c8" stroke-width="1.6" stroke-linejoin="round"/>
<path d="M80.06,275.20 L80.45,261.44 L80.83,249.98 L81.22,241.84 L81.61,236.57 L81.99,232.11 L82.38,226.19 L82.77,223.64 L83.15,222.48 L83.54,219.99 L83.93,218.67 L84.32,215.70 L84.70,215.98 L85.09,213.35 L85.48,212.96 L85.86,213.86 L86.25,211.81 L86.64,212.01 L87.02,210.69 L87.41,210.07 L87.80,211.00 L88.18,211.11 L88.57,208.73 L88.96,209.68 L89.34,208.18 L89.73,208.49 L90.12,208.13 L90.51,207.67 L90.89,207.93 L91.28,208.14 L91.67,208.89 L92.05,207.15 L92.44,207.61 L92.83,207.24 L93.21,206.07 L93.60,207.82 L93.99,206.15 L94.37,207.72 L94.76,205.99 L95.15,205.61 L95.53,206.78 L95.92,205.97 L96.31,204.83 L96.70,205.50 L97.08,205.61 L97.47,206.21 L97.86,206.56 L98.24,205.74 L98.63,205.51 L99.02,205.91 L99.40,205.56 L99.79,205.88 L100.18,204.43 L100.56,204.43 L100.95,205.38 L101.34,205.29 L101.72,204.56 L102.11,204.65 L102.50,203.40 L102.89,204.73 L103.27,204.78 L103.66,203.31 L104.05,205.02 L104.43,203.95 L104.82,204.44 L105.21,203.22 L105.59,203.80 L105.98,203.23 L106.37,204.59 L106.75,203.34 L107.14,203.45 L107.53,203.72 L107.91,202.94 L108.30,202.73 L108.69,204.39 L109.08,203.92 L109.46,203.70 L109.85,204.02 L110.24,204.33 L110.62,203.75 L111.01,203.90 L111.40,202.65 L111.78,203.21 L112.17,203.97 L112.56,203.41 L112.94,203.02 L113.33,203.23 L113.72,203.66 L114.10,203.85 L114.49,203.95 L114.88,201.55 L115.26,202.09 L115.65,203.65 L116.04,202.09 L116.43,201.42 L116.81,202.38 L117.20,203.43 L117.59,202.48 L117.97,202.57 L118.36,203.12 L118.75,202.23 L119.13,203.48 L119.52,201.25 L119.91,201.88 L120.29,201.88 L120.68,201.10 L121.07,201.74 L121.45,202.67 L121.84,202.65 L122.23,202.87 L122.62,203.10 L123.00,201.27 L123.39,201.08 L123.78,202.34 L124.16,202.57 L124.55,201.45 L124.94,200.92 L125.32,200.69 L125.71,202.47 L126.10,200.96 L126.48,200.81 L126.87,200.99 L127.26,201.95 L127.64,202.26 L128.03,200.68 L128.42,201.86 L128.81,201.71 L129.19,201.24 L129.58,201.64 L129.97,206.05 L130.35,219.04 L130.74,229.43 L131.13,236.65 L131.51,243.76 L131.90,249.51 L132.29,255.11 L132.67,259.18 L133.06,262.98 L133.45,267.40 L133.83,270.24 L134.22,273.50 L134.61,275.25 L135.00,276.37 L135.38,279.10 L135.77,278.96 L136.16,281.34 L136.54,281.63 L136.93,281.19 L137.32,284.00 L137.70,284.72 L138.09,284.28 L138.48,285.32 L138.86,284.42 L139.25,286.47 L139.64,284.74 L140.02,284.94 L140.41,285.31 L140.80,286.35 L141.18,286.84 L141.57,286.06 L141.96,286.52 L142.35,286.84 L142.73,287.11 L143.12,286.94 L143.51,286.45 L143.89,286.12 L144.28,285.98 L144.67,287.79 L145.05,287.50 L145.44,287.18 L145.83,286.91 L146.21,287.45 L146.60,287.83 L146.99,288.11 L147.37,287.55 L147.76,287.23 L148.15,286.02 L148.54,286.17 L148.92,286.28 L149.31,286.03 L149.70,286.06 L150.08,286.89 L150.47,286.43 L150.86,288.24 L151.24,286.76 L151.63,286.92 L152.02,287.68 L152.40,287.02 L152.79,286.10 L153.18,287.24 L153.56,286.84 L153.95,287.68 L154.34,287.57 L154.73,286.27 L155.11,288.33 L155.50,287.94 L155.89,286.77 L156.27,287.32 L156.66,288.19 L157.05,286.81 L157.43,287.51 L157.82,287.01 L158.21,287.40 L158.59,287.13 L158.98,287.04 L159.37,287.45 L159.75,288.13 L160.14,287.97 L160.53,286.26 L160.92,287.08 L161.30,288.13 L161.69,286.33 L162.08,287.79 L162.46,288.17 L162.85,287.13 L163.24,287.80 L163.62,287.23 L164.01,287.07 L164.40,287.86 L164.78,287.03 L165.17,288.13 L165.56,287.17 L165.94,286.99 L166.33,288.21 L166.72,287.42 L167.10,288.22 L167.49,287.35 L167.88,286.33 L168.27,287.08 L168.65,286.68 L169.04,286.58 L169.43,288.12 L169.81,286.02 L170.20,286.67 L170.59,288.15 L170.97,286.41 L171.36,287.46 L171.75,287.99 L172.13,286.10 L172.52,287.05 L172.91,286.54 L173.29,288.07 L173.68,286.54 L174.07,288.26 L174.46,287.83 L174.84,287.51 L175.23,288.36 L175.62,286.97 L176.00,287.89 L176.39,287.68 L176.78,286.70 L177.16,287.38 L177.55,286.27 L177.94,286.91 L178.32,286.31 L178.71,287.05 L179.10,286.20 L179.48,286.31" fill="none" stroke="#a3282a" stroke-width="1.6" stroke-linejoin="round"/>
<rect x="161.5" y="181.8" width="51.19999999999999" height="36.8" fill="#fff" stroke="#1a1a1a" stroke-width="1.1"/>
<line x1="166.2" y1="188.8" x2="177.9" y2="188.8" stroke="#a3282a" stroke-width="1.5"/>
<text x="184.6" y="191.10000000000002" font-size="6.0" font-weight="bold" text-anchor="start" fill="#111">3.91 µM</text>
<line x1="166.2" y1="197.0" x2="177.9" y2="197.0" stroke="#9a30c8" stroke-width="1.5"/>
<text x="184.6" y="199.3" font-size="6.0" font-weight="bold" text-anchor="start" fill="#111">1.95 µM</text>
<line x1="166.2" y1="204.6" x2="177.9" y2="204.6" stroke="#3d4fc0" stroke-width="1.5"/>
<text x="184.6" y="206.9" font-size="6.0" font-weight="bold" text-anchor="start" fill="#111">0.98 µM</text>
<line x1="166.2" y1="212.0" x2="177.9" y2="212.0" stroke="#2f8a90" stroke-width="1.5"/>
<text x="184.6" y="214.3" font-size="6.0" font-weight="bold" text-anchor="start" fill="#111">0.48 µM</text>
<text x="243.5" y="23.5" font-size="12.5" font-weight="bold" text-anchor="start" fill="#111">b</text>
<path d="M330,13 C334,16 338,19 341,18 C345,17 348,16 352,12 C355,9 359,9 363,13 C365,14 366,11 367,10 C367,15 366,18 365,21 C363,24 361,26 358,26 C354,26 350,24 345,25 C341,26 339,30 336,34" fill="none" stroke="#d8d8da" stroke-width="2.0" stroke-linecap="round" stroke-linejoin="round"/>
<path d="M386,83 C392,80 398,79 404,80 C410,81 414,84 415,90 C416,97 416,103 414,108 C412,113 410,117 412,120 C415,123 417,127 416,132 C415,138 413,143 408,147 C404,150 399,152 393,150 C388,149 384,145 381,140 C379,135 378,132 378,128" fill="none" stroke="#d6d6d8" stroke-width="2.0" stroke-linecap="round" stroke-linejoin="round"/>
<path d="M313,120 C312,127 311,134 312,140 C314,136 316,130 318,127 C322,127 326,128 330,128 C334,128 337,127 340,127" fill="none" stroke="#d8d8da" stroke-width="1.8" stroke-linecap="round" stroke-linejoin="round"/>
<path d="M266,30 C268,24 274,22 279,25 C283,27 286,29 288,34" fill="none" stroke="#a0a0a2" stroke-width="1.6" stroke-linecap="round" stroke-linejoin="round"/>
<path d="M285,36 C290,32 296,30 301,32 C305,34 309,35 313,33" fill="none" stroke="#b8b8ba" stroke-width="1.6" stroke-linecap="round" stroke-linejoin="round"/>
<path d="M300,30 C306,22 312,20 318,24" fill="none" stroke="#d0d0d2" stroke-width="1.4" stroke-linecap="round" stroke-linejoin="round"/>
<path d="M330,146 C334,140 340,138 345,140" fill="none" stroke="#d0d0d2" stroke-width="1.6" stroke-linecap="round" stroke-linejoin="round"/>
<path d="M271,55 C268,60 266,66 267,72 C268,78 270,82 275,86 C279,89 283,90 288,92" fill="none" stroke="#9a9a9c" stroke-width="1.6" stroke-linecap="round" stroke-linejoin="round"/>
<path d="M289,51 C290,58 290,64 291,70 C292,76 290,81 289,87" fill="none" stroke="#a4a4a6" stroke-width="1.5" stroke-linecap="round" stroke-linejoin="round"/>
<path d="M378,128 C374,132 370,134 366,135 C361,135 358,133 354,133 C350,134 347,136 345,140 C343,145 340,150 336,152 C333,153 331,151 330,146" fill="none" stroke="#929294" stroke-width="1.8" stroke-linecap="round" stroke-linejoin="round"/>
<path d="M330,118 C334,120 337,122 340,121" fill="none" stroke="#c8c8ca" stroke-width="1.6" stroke-linecap="round" stroke-linejoin="round"/>
<path d="M252,61 L258,52 L282,37 L281,33 L291,38.5 L288,46 L286,42 L268,55 L257,64 Z" fill="#d4d4d6" stroke="#7c7c7e" stroke-width="0.5" stroke-linejoin="round"/>
<path d="M253,66 L262,58 L280,48 L283,52 L266,62 L257,68 Z" fill="#c6c6c8" stroke="#7c7c7e" stroke-width="0.5" stroke-linejoin="round"/>
<path d="M252,61 L257,64 L257,68 L253,66 Z" fill="#9c9c9e" stroke="#7c7c7e" stroke-width="0.5" stroke-linejoin="round"/>
<path d="M275,52 L288,52 L289,61 L276,61 Z" fill="#a4a4a6" stroke="#7c7c7e" stroke-width="0.5" stroke-linejoin="round"/>
<path d="M275,56 L283,54 L284,61 L276,61 Z" fill="#7a7a7c" stroke="#7c7c7e" stroke-width="0.5" stroke-linejoin="round"/>
<path d="M285,12 L292,10 L294,22 L291,28 L287,22 Z" fill="#c2c2c4" stroke="#7c7c7e" stroke-width="0.5" stroke-linejoin="round"/>
<path d="M285,12 L288,11 L289,24 L287,22 Z" fill="#9a9a9c" stroke="#7c7c7e" stroke-width="0.5" stroke-linejoin="round"/>
<path d="M295,47 L300,42 L305,47 L304,72 L296,74 Z" fill="#8e8e90" stroke="#7c7c7e" stroke-width="0.5" stroke-linejoin="round"/>
<path d="M295,47 L298,46 L298,73 L296,74 Z" fill="#b0b0b2" stroke="#7c7c7e" stroke-width="0.5" stroke-linejoin="round"/>
<path d="M312.5,55 L318.3,44 L325,55 L324,55 L324,96 L314,96 L314,55 Z" fill="#8a8a8c" stroke="#7c7c7e" stroke-width="0.5" stroke-linejoin="round"/>
<path d="M314,55 L317.5,55 L317.5,96 L314,96 Z" fill="#747476" stroke="#747476" stroke-width="0.2" stroke-linejoin="round"/>
<path d="M308,101 L330,93 L329,90 L337,92 L333,100 L332,97 L310,106 Z" fill="#8c8c8e" stroke="#7c7c7e" stroke-width="0.5" stroke-linejoin="round"/>
<path d="M292,88 L300,86 L308,100 L306,104 L296,104 Z" fill="#c8c8ca" stroke="#7c7c7e" stroke-width="0.5" stroke-linejoin="round"/>
<path d="M292,88 L296,104 L294,104 L290,92 Z" fill="#9a9a9c" stroke="#7c7c7e" stroke-width="0.5" stroke-linejoin="round"/>
<path d="M326,48 L334,49 L337,66 L329,67 Z" fill="#cfcfd1" stroke="#7c7c7e" stroke-width="0.5" stroke-linejoin="round"/>
<ellipse cx="335" cy="57" rx="5" ry="7" fill="#c6c6c8" stroke="#8c8c8e" stroke-width="0.5"/>
<ellipse cx="350" cy="56.5" rx="7.5" ry="7.2" fill="#c2c2c4" stroke="#8c8c8e" stroke-width="0.6"/>
<ellipse cx="350" cy="56.5" rx="4.2" ry="4.8" fill="#ececee" stroke="#9c9c9e" stroke-width="0.5"/>
<ellipse cx="364" cy="54" rx="8.6" ry="7.3" fill="#bdbdbf" stroke="#8c8c8e" stroke-width="0.6"/>
<ellipse cx="363.5" cy="54" rx="5" ry="5.4" fill="#efeff1" stroke="#9c9c9e" stroke-width="0.5"/>
<ellipse cx="301.5" cy="115.5" rx="10.5" ry="8.3" fill="#b2b2b4" stroke="#8a8a8c" stroke-width="0.6"/>
<ellipse cx="300" cy="115.5" rx="7.2" ry="5.4" fill="#f4f4f4" stroke="#9c9c9e" stroke-width="0.5"/>
<ellipse cx="307" cy="114.5" rx="3.6" ry="4.4" fill="none" stroke="#b8b8ba" stroke-width="1"/>
<path d="M343,115 L356,114 L357,126 L344,127 Z" fill="#c0c0c2" stroke="#7c7c7e" stroke-width="0.5" stroke-linejoin="round"/>
<path d="M347,105 L367,96 L372,103 L352,113 Z" fill="#e2e2e4" stroke="#a8a8aa" stroke-width="0.5" stroke-linejoin="round"/>
<path d="M355,110 L377,103 L381,119 L360,127 Z" fill="#dedee0" stroke="#a8a8aa" stroke-width="0.5" stroke-linejoin="round"/>
<path d="M359,88 L369,84 L371,104 L362,106 Z" fill="#d0d0d2" stroke="#a0a0a2" stroke-width="0.5" stroke-linejoin="round"/>
<path d="M368,90 L372,88 L374,100 L370,101 Z" fill="#a8a8aa" stroke="#7c7c7e" stroke-width="0.5" stroke-linejoin="round"/>
<path d="M377,108 L384,101 L386,130 L380,131 Z" fill="#a4a4a6" stroke="#7c7c7e" stroke-width="0.5" stroke-linejoin="round"/>
<path d="M345,95 L372,91" fill="none" stroke="#b0b0b2" stroke-width="1.2" stroke-linecap="round" stroke-linejoin="round"/>
<path d="M356,121 L362,128" fill="none" stroke="#8a8a8c" stroke-width="0.8" stroke-linecap="round" stroke-linejoin="round"/>
<ellipse cx="382" cy="96" rx="8.6" ry="6.4" fill="#a8a8aa" stroke="#8a8a8c" stroke-width="0.6"/>
<ellipse cx="383" cy="96" rx="5.6" ry="3.8" fill="#eeeef0" stroke="#9c9c9e" stroke-width="0.5"/>
<ellipse cx="374" cy="98" rx="3.5" ry="5.5" fill="#b8b8ba" stroke="#8c8c8e" stroke-width="0.5"/>
<path d="M319.6,29 C319,34 319,38 319,42" fill="none" stroke="#8088d8" stroke-width="1.4" stroke-linecap="round" stroke-linejoin="round"/>
<path d="M319.6,29 C316,22 315,12 318,8 C321,4 325,5 326,10 C327,16 328,22 332,25 C336,27 340,30 343,40 C345,46 350,49 356,52 C359,56 359,62 361,67 C363,69 366,68 368,67 C367,72 366,76 364,80" fill="none" stroke="#5a62c8" stroke-width="1.5" stroke-linecap="round" stroke-linejoin="round"/>
<path d="M356,80 C352,81 348,79 346,77" fill="none" stroke="#5a62c8" stroke-width="1.5" stroke-linecap="round" stroke-linejoin="round"/>
<path d="M328.8,55 C332,60 334,66 334,72 C334,77 333,80 329,81" fill="none" stroke="#7c84d8" stroke-width="1.4" stroke-linecap="round" stroke-linejoin="round"/>
<path d="M271,78.6 L277.6,74.7 L278.3,83.9 L284.8,86.5 L286.1,91.8 L292,94.4 L293.4,99.6 L298.6,101.6" fill="none" stroke="#a040d0" stroke-width="2.1" stroke-linecap="round" stroke-linejoin="round"/>
<path d="M277.6,74.7 L278,70 M277.6,74.7 L272,76" fill="none" stroke="#a040d0" stroke-width="1.6" stroke-linecap="round" stroke-linejoin="round"/>
<path d="M305.8,62.9 L307.8,68.1 L314.4,68.8 M307.8,68.1 L306.5,73.4 L305.2,81.2 L300,87.8 M305.2,81.2 L308,88 L310.4,95.7 L310.4,106.2" fill="none" stroke="#a040d0" stroke-width="2.1" stroke-linecap="round" stroke-linejoin="round"/>
<path d="M310.4,103.6 L317,101 L319.6,97 L324.9,99.6 L331.5,97 M324.9,99.6 L328.8,103.6 M331.5,97 L333,93" fill="none" stroke="#a040d0" stroke-width="2.1" stroke-linecap="round" stroke-linejoin="round"/>
<path d="M332.6,59.1 L345.8,58 L357.6,57.8 M345.8,58 L345.8,67" fill="none" stroke="#a040d0" stroke-width="2.1" stroke-linecap="round" stroke-linejoin="round"/>
<path d="M387.8,59.1 L397.7,59.1 M393,59.5 L393,61.8 L391.8,68.3 L386.5,72.3 L385.2,80 L381.2,81.6 M385.2,80 L386.5,80.3 L389.1,89.5 L395.7,88.1 L402.3,87.5 M395.7,88.1 L397,94.7" fill="none" stroke="#a040d0" stroke-width="2.1" stroke-linecap="round" stroke-linejoin="round"/>
<path d="M314.4,80 L324.9,82.6 L332,84.6 L339.2,86.8 L343,85.5 L347,88 L346.5,95 L343,98.5 L339.6,96 L339.2,86.8" fill="none" stroke="#d6d63a" stroke-width="2.3" stroke-linecap="round" stroke-linejoin="round"/>
<path d="M343,98.5 L341,104 L338,108.5" fill="none" stroke="#d6d63a" stroke-width="2.0" stroke-linecap="round" stroke-linejoin="round"/>
<path d="M314.4,79.5 L322,81.8" fill="none" stroke="#2a2ab0" stroke-width="2.0" stroke-linecap="round" stroke-linejoin="round"/>
<path d="M347.5,87 L350,86 M346.5,96 L348,99 M341,104 L340,106" fill="none" stroke="#d43a30" stroke-width="1.5" stroke-linecap="round" stroke-linejoin="round"/>
<text x="345.1" y="40.6" font-size="6.7" font-weight="normal" text-anchor="start" fill="#3a3a3a">VAL- 20</text>
<text x="376.0" y="57.7" font-size="6.7" font-weight="normal" text-anchor="start" fill="#3a3a3a">GLN-45</text>
<text x="282.2" y="67.2" font-size="6.7" font-weight="normal" text-anchor="start" fill="#3a3a3a">GLU-27</text>
<text x="261.8" y="106.3" font-size="6.7" font-weight="normal" text-anchor="start" fill="#3a3a3a">ARG- 30</text>
<text x="315.0" y="114.8" font-size="6.7" font-weight="normal" text-anchor="start" fill="#3a3a3a">GLN-28</text>
<text x="391.8" y="103.0" font-size="6.7" font-weight="normal" text-anchor="start" fill="#3a3a3a">LEU- 44</text>
<text x="431" y="22.5" font-size="12.5" font-weight="bold" text-anchor="start" fill="#111">c</text>
<rect x="500.00" y="12.30" width="26.14" height="32.30" fill="#0a090a"/>
<rect x="525.14" y="12.30" width="26.14" height="32.30" fill="#0b0a0d"/>
<rect x="550.28" y="12.30" width="26.14" height="32.30" fill="#0a0a0b"/>
<rect x="575.42" y="12.30" width="26.14" height="32.30" fill="#7a28a8"/>
<rect x="600.56" y="12.30" width="25.14" height="32.30" fill="#2b2041"/>
<rect x="500.00" y="43.60" width="26.14" height="32.30" fill="#090909"/>
<rect x="525.14" y="43.60" width="26.14" height="32.30" fill="#100d17"/>
<rect x="550.28" y="43.60" width="26.14" height="32.30" fill="#0a0a0c"/>
<rect x="575.42" y="43.60" width="26.14" height="32.30" fill="#0a0a0b"/>
<rect x="600.56" y="43.60" width="25.14" height="32.30" fill="#0b0a0c"/>
<rect x="500.00" y="74.90" width="26.14" height="32.30" fill="#3a265f"/>
<rect x="525.14" y="74.90" width="26.14" height="32.30" fill="#452973"/>
<rect x="550.28" y="74.90" width="26.14" height="32.30" fill="#30224c"/>
<rect x="575.42" y="74.90" width="26.14" height="32.30" fill="#912ea4"/>
<rect x="600.56" y="74.90" width="25.14" height="32.30" fill="#f2f6c7"/>
<rect x="500.00" y="106.20" width="26.14" height="31.30" fill="#6b23a3"/>
<rect x="525.14" y="106.20" width="26.14" height="31.30" fill="#952fa3"/>
<rect x="550.28" y="106.20" width="26.14" height="31.30" fill="#1b152a"/>
<rect x="575.42" y="106.20" width="26.14" height="31.30" fill="#f0a57a"/>
<rect x="600.56" y="106.20" width="25.14" height="31.30" fill="#eed9a5"/>
<text x="512.57" y="31.050000000000004" font-size="8.5" font-weight="normal" text-anchor="middle" fill="#f2f2f2">10.7</text>
<text x="537.71" y="31.050000000000004" font-size="8.5" font-weight="normal" text-anchor="middle" fill="#f2f2f2">13.5</text>
<text x="562.85" y="31.050000000000004" font-size="8.5" font-weight="normal" text-anchor="middle" fill="#f2f2f2">11.6</text>
<text x="587.99" y="31.050000000000004" font-size="8.5" font-weight="normal" text-anchor="middle" fill="#f2f2f2">74.9</text>
<text x="613.13" y="31.050000000000004" font-size="8.5" font-weight="normal" text-anchor="middle" fill="#f2f2f2">35.3</text>
<line x1="497" y1="27.950000000000003" x2="500" y2="27.950000000000003" stroke="#1a1a1a" stroke-width="0.9"/>
<text x="496.2" y="30.85" font-size="8.0" font-weight="bold" text-anchor="end" fill="#111">MaP512-TMP</text>
<text x="512.57" y="62.35" font-size="8.5" font-weight="normal" text-anchor="middle" fill="#f2f2f2">8.9</text>
<text x="537.71" y="62.35" font-size="8.5" font-weight="normal" text-anchor="middle" fill="#f2f2f2">18.0</text>
<text x="562.85" y="62.35" font-size="8.5" font-weight="normal" text-anchor="middle" fill="#f2f2f2">12.5</text>
<text x="587.99" y="62.35" font-size="8.5" font-weight="normal" text-anchor="middle" fill="#f2f2f2">11.8</text>
<text x="613.13" y="62.35" font-size="8.5" font-weight="normal" text-anchor="middle" fill="#f2f2f2">13.3</text>
<line x1="497" y1="59.25" x2="500" y2="59.25" stroke="#1a1a1a" stroke-width="0.9"/>
<text x="496.2" y="62.15" font-size="8.0" font-weight="bold" text-anchor="end" fill="#111">MaP555-TMP</text>
<text x="512.57" y="93.65" font-size="8.5" font-weight="normal" text-anchor="middle" fill="#f2f2f2">43.7</text>
<text x="537.71" y="93.65" font-size="8.5" font-weight="normal" text-anchor="middle" fill="#f2f2f2">49.2</text>
<text x="562.85" y="93.65" font-size="8.5" font-weight="normal" text-anchor="middle" fill="#f2f2f2">38.2</text>
<text x="587.99" y="93.65" font-size="8.5" font-weight="normal" text-anchor="middle" fill="#f2f2f2">86.0</text>
<text x="613.13" y="93.65" font-size="8.5" font-weight="normal" text-anchor="middle" fill="#111">190.2</text>
<line x1="497" y1="90.55000000000001" x2="500" y2="90.55000000000001" stroke="#1a1a1a" stroke-width="0.9"/>
<text x="496.2" y="93.45000000000002" font-size="8.0" font-weight="bold" text-anchor="end" fill="#111">MaP618m-TMP</text>
<text x="512.57" y="124.95" font-size="8.5" font-weight="normal" text-anchor="middle" fill="#f2f2f2">68.2</text>
<text x="537.71" y="124.95" font-size="8.5" font-weight="normal" text-anchor="middle" fill="#f2f2f2">87.6</text>
<text x="562.85" y="124.95" font-size="8.5" font-weight="normal" text-anchor="middle" fill="#f2f2f2">25.8</text>
<text x="587.99" y="124.95" font-size="8.5" font-weight="normal" text-anchor="middle" fill="#111">161.0</text>
<text x="613.13" y="124.95" font-size="8.5" font-weight="normal" text-anchor="middle" fill="#111">179.8</text>
<line x1="497" y1="121.85000000000001" x2="500" y2="121.85000000000001" stroke="#1a1a1a" stroke-width="0.9"/>
<text x="496.2" y="124.75000000000001" font-size="8.0" font-weight="bold" text-anchor="end" fill="#111">MaP655-TMP</text>
<rect x="500.0" y="12.3" width="125.7" height="125.2" fill="none" stroke="#222" stroke-width="0.8"/>
<line x1="512.57" y1="137.5" x2="512.57" y2="140.0" stroke="#1a1a1a" stroke-width="0.9"/>
<text x="512.57" y="148.2" font-size="8.0" font-weight="bold" text-anchor="middle" fill="#111">M20V</text>
<line x1="537.71" y1="137.5" x2="537.71" y2="140.0" stroke="#1a1a1a" stroke-width="0.9"/>
<text x="537.71" y="148.2" font-size="8.0" font-weight="bold" text-anchor="middle" fill="#111">W30R</text>
<line x1="562.85" y1="137.5" x2="562.85" y2="140.0" stroke="#1a1a1a" stroke-width="0.9"/>
<text x="562.85" y="148.2" font-size="8.0" font-weight="bold" text-anchor="middle" fill="#111">D27E</text>
<line x1="587.99" y1="137.5" x2="587.99" y2="140.0" stroke="#1a1a1a" stroke-width="0.9"/>
<text x="587.99" y="148.2" font-size="8.0" font-weight="bold" text-anchor="middle" fill="#111">L28Q</text>
<line x1="613.13" y1="137.5" x2="613.13" y2="140.0" stroke="#1a1a1a" stroke-width="0.9"/>
<text x="613.13" y="148.2" font-size="8.0" font-weight="bold" text-anchor="middle" fill="#111">Wt</text>
<line x1="501" y1="151.8" x2="599" y2="151.8" stroke="#1a1a1a" stroke-width="1.0"/>
<text x="547.3" y="158.9" font-size="8.0" font-weight="bold" text-anchor="middle" fill="#111">R44L_H45Q</text>
<text x="563.3" y="8.4" font-size="10.2" font-weight="bold" text-anchor="middle" fill="#111">F/F<tspan font-size="7" dy="2.3">0</tspan></text>
<defs><linearGradient id="cb" x1="0" y1="0" x2="0" y2="1"><stop offset="0.000" stop-color="#f2f6c7"/><stop offset="0.050" stop-color="#eeddaa"/><stop offset="0.100" stop-color="#efc492"/><stop offset="0.150" stop-color="#f0ab7d"/><stop offset="0.200" stop-color="#f0936e"/><stop offset="0.250" stop-color="#ed7a65"/><stop offset="0.300" stop-color="#e86260"/><stop offset="0.350" stop-color="#de5364"/><stop offset="0.400" stop-color="#d1466d"/><stop offset="0.450" stop-color="#bf3d80"/><stop offset="0.500" stop-color="#ad3691"/><stop offset="0.550" stop-color="#9b30a1"/><stop offset="0.600" stop-color="#882ba5"/><stop offset="0.650" stop-color="#7426a6"/><stop offset="0.700" stop-color="#61219b"/><stop offset="0.750" stop-color="#4e2782"/><stop offset="0.800" stop-color="#3d2765"/><stop offset="0.850" stop-color="#2c2144"/><stop offset="0.900" stop-color="#1d162d"/><stop offset="0.950" stop-color="#100d17"/><stop offset="1.000" stop-color="#090909"/></linearGradient></defs>
<rect x="636" y="12.3" width="10.5" height="125.2" fill="url(#cb)" stroke="#222" stroke-width="0.7"/>
<line x1="644.5" y1="109.11765030336458" x2="646.5" y2="109.11765030336458" stroke="#222" stroke-width="0.8"/>
<text x="650.2" y="111.91765030336458" font-size="7.8" font-weight="normal" text-anchor="start" fill="#111">50</text>
<line x1="644.5" y1="74.5892443463872" x2="646.5" y2="74.5892443463872" stroke="#222" stroke-width="0.8"/>
<text x="650.2" y="77.3892443463872" font-size="7.8" font-weight="normal" text-anchor="start" fill="#111">100</text>
<line x1="644.5" y1="40.060838389409824" x2="646.5" y2="40.060838389409824" stroke="#222" stroke-width="0.8"/>
<text x="650.2" y="42.86083838940982" font-size="7.8" font-weight="normal" text-anchor="start" fill="#111">150</text>
<text x="228.0" y="176.0" font-size="12.5" font-weight="bold" text-anchor="start" fill="#111">e</text>
<rect x="235" y="172.4" width="420.70000000000005" height="23" fill="#e6e6e8"/>
<line x1="235" y1="172.4" x2="655.7" y2="172.4" stroke="#666" stroke-width="1.1"/>
<line x1="235" y1="195.3" x2="655.7" y2="195.3" stroke="#888" stroke-width="0.8"/>
<line x1="235" y1="215.3" x2="655.7" y2="215.3" stroke="#aaa" stroke-width="0.9" stroke-dasharray="1.2,1.2"/>
<line x1="235" y1="311.4" x2="655.7" y2="311.4" stroke="#555" stroke-width="1.2"/>
<text x="271.5" y="187.4" font-size="8.6" font-weight="normal" text-anchor="middle" fill="#222">Probe</text>
<text x="346.8" y="187.4" font-size="8.6" font-weight="normal" text-anchor="middle" fill="#222">Protein</text>
<text x="405.2" y="187.4" font-size="8.6" text-anchor="middle" fill="#222">K<tspan font-size="5.6" dy="1.8">D</tspan><tspan dy="-1.8"> [µM]</tspan></text>
<text x="456.0" y="187.4" font-size="8.6" text-anchor="middle" fill="#222">K<tspan font-size="5.6" dy="1.8">on</tspan><tspan dy="-1.8"> [10</tspan><tspan font-size="5.6" dy="-3">5</tspan><tspan dy="3">M</tspan><tspan font-size="5.6" dy="-3">-1</tspan><tspan dy="3">S</tspan><tspan font-size="5.6" dy="-3">-1</tspan><tspan dy="3">]</tspan></text>
<text x="513.3" y="187.4" font-size="8.6" text-anchor="middle" fill="#222">K<tspan font-size="5.6" dy="1.8">off</tspan><tspan dy="-1.8"> [s</tspan><tspan font-size="5.6" dy="-3">-1</tspan><tspan dy="3">]</tspan></text>
<text x="563.4" y="187.4" font-size="8.6" text-anchor="middle" fill="#222">C<tspan font-size="5.6" dy="1.8">50</tspan><tspan dy="-1.8"> [µM]</tspan></text>
<text x="623.1" y="187.4" font-size="8.6" font-weight="normal" text-anchor="middle" fill="#222">Fluorogenicity</text>
<text x="271.5" y="208.5" font-size="8.6" font-weight="normal" text-anchor="middle" fill="#222">MaP555-TMP</text>
<text x="346.8" y="208.5" font-size="8.6" font-weight="normal" text-anchor="middle" fill="#222">TMP-Tag</text>
<text x="405.2" y="208.5" font-size="8.6" font-weight="normal" text-anchor="middle" fill="#222">--</text>
<text x="456.0" y="208.5" font-size="8.6" font-weight="normal" text-anchor="middle" fill="#222">0.925</text>
<text x="513.3" y="208.5" font-size="8.6" text-anchor="middle" fill="#222">4.88×10<tspan font-size="5.6" dy="-3">-7</tspan></text>
<text x="563.4" y="208.5" font-size="8.6" font-weight="normal" text-anchor="middle" fill="#222">0.059±0.12</text>
<text x="623.1" y="208.5" font-size="8.6" font-weight="normal" text-anchor="middle" fill="#222">13.3</text>
<text x="271.5" y="227.8" font-size="8.6" font-weight="normal" text-anchor="middle" fill="#222">MaP555-TMP</text>
<text x="405.2" y="227.8" font-size="8.6" font-weight="normal" text-anchor="middle" fill="#222">1.5</text>
<text x="456.0" y="227.8" font-size="8.6" font-weight="normal" text-anchor="middle" fill="#222">1.12</text>
<text x="513.3" y="227.8" font-size="8.6" font-weight="normal" text-anchor="middle" fill="#222">0.13</text>
<text x="563.4" y="227.8" font-size="8.6" font-weight="normal" text-anchor="middle" fill="#222">0.433±0.03</text>
<text x="623.1" y="227.8" font-size="8.6" font-weight="normal" text-anchor="middle" fill="#222">11.8</text>
<text x="271.5" y="247.1" font-size="8.6" font-weight="normal" text-anchor="middle" fill="#222">MaP618m-TMP</text>
<text x="405.2" y="247.1" font-size="8.6" font-weight="normal" text-anchor="middle" fill="#222">1.9</text>
<text x="456.0" y="247.1" font-size="8.6" font-weight="normal" text-anchor="middle" fill="#222">0.10</text>
<text x="513.3" y="247.1" font-size="8.6" font-weight="normal" text-anchor="middle" fill="#222">0.05</text>
<text x="563.4" y="247.1" font-size="8.6" font-weight="normal" text-anchor="middle" fill="#222">1.0±0.08</text>
<text x="623.1" y="247.1" font-size="8.6" font-weight="normal" text-anchor="middle" fill="#222">86.0</text>
<text x="271.5" y="266.4" font-size="8.6" font-weight="normal" text-anchor="middle" fill="#222">MaP655-TMP</text>
<text x="405.2" y="266.4" font-size="8.6" font-weight="normal" text-anchor="middle" fill="#222">2.8</text>
<text x="456.0" y="266.4" font-size="8.6" font-weight="normal" text-anchor="middle" fill="#222">0.06</text>
<text x="513.3" y="266.4" font-size="8.6" font-weight="normal" text-anchor="middle" fill="#222">0.011</text>
<text x="563.4" y="266.4" font-size="8.6" font-weight="normal" text-anchor="middle" fill="#222">1.72±0.05</text>
<text x="623.1" y="266.4" font-size="8.6" font-weight="normal" text-anchor="middle" fill="#222">161.0</text>
<text x="271.5" y="285.6" font-size="8.6" font-weight="normal" text-anchor="middle" fill="#222">SiR-TMP</text>
<text x="405.2" y="285.6" font-size="8.6" font-weight="normal" text-anchor="middle" fill="#222">3.8</text>
<text x="456.0" y="285.6" font-size="8.6" font-weight="normal" text-anchor="middle" fill="#222">0.10</text>
<text x="513.3" y="285.6" font-size="8.6" font-weight="normal" text-anchor="middle" fill="#222">0.047</text>
<text x="563.4" y="285.6" font-size="8.6" font-weight="normal" text-anchor="middle" fill="#222">1.39±0.28</text>
<text x="623.1" y="285.6" font-size="8.6" font-weight="normal" text-anchor="middle" fill="#222">8.5</text>
<text x="271.5" y="304.9" font-size="8.6" font-weight="normal" text-anchor="middle" fill="#222">CPY-TMP</text>
<text x="405.2" y="304.9" font-size="8.6" font-weight="normal" text-anchor="middle" fill="#222">0.33</text>
<text x="456.0" y="304.9" font-size="8.6" font-weight="normal" text-anchor="middle" fill="#222">0.89</text>
<text x="513.3" y="304.9" font-size="8.6" font-weight="normal" text-anchor="middle" fill="#222">0.037</text>
<text x="563.4" y="304.9" font-size="8.6" font-weight="normal" text-anchor="middle" fill="#222">1.69±0.28</text>
<text x="623.1" y="304.9" font-size="8.6" font-weight="normal" text-anchor="middle" fill="#222">1.4</text>
<text x="346.8" y="261.8" font-size="8.6" font-weight="normal" text-anchor="middle" fill="#222">ReTag1</text>
<text x="346.8" y="271.4" font-size="8.6" font-weight="normal" text-anchor="middle" fill="#222">(L28Q/R44L/H45Q)</text>
<text x="9.0" y="330.2" font-size="12.5" font-weight="bold" text-anchor="start" fill="#111">f</text>
<text x="213.8" y="334.9" font-size="10.0" font-weight="bold" text-anchor="middle" fill="#111" textLength="93.5" lengthAdjust="spacingAndGlyphs">H2B-SNAP-ReTag1</text>
<line x1="25.5" y1="339.1" x2="406.5" y2="339.1" stroke="#111" stroke-width="1.6"/>
<rect x="26.4" y="343.3" width="93.5" height="93.3" fill="#060606"/>
<g filter="url(#bl07)">
<ellipse cx="33.199999999999996" cy="381.7" rx="5.0" ry="5.0" fill="#e02418"/>
<ellipse cx="53.7" cy="392.6" rx="4.9" ry="5.2" fill="#e02418"/>
<ellipse cx="96.0" cy="416.20000000000005" rx="5.8" ry="5.4" fill="#8a1814"/>
</g>
<line x1="26.4" y1="343.3" x2="119.9" y2="436.6" stroke="#f0f0f0" stroke-width="0.9" stroke-dasharray="1.2,1.6"/>
<text x="29.099999999999998" y="429.0" font-size="8.0" font-weight="bold" text-anchor="start" fill="#e83020">SiR-BG</text>
<rect x="122.1" y="343.3" width="93.5" height="93.3" fill="#060606"/>
<rect x="122.1" y="343.3" width="93.5" height="93.3" fill="#0b0d06"/>
<g filter="url(#bl07)">
<ellipse cx="128.9" cy="381.7" rx="5.0" ry="5.0" fill="#e02418"/>
<ellipse cx="149.4" cy="392.6" rx="4.9" ry="5.2" fill="#e02418"/>
<ellipse cx="191.7" cy="416.20000000000005" rx="5.8" ry="5.4" fill="#8a1814"/>
</g>
<g filter="url(#bl1)">
<path d="M154.1 361.3 C156.1 358.3 160.6 359.3 160.6 364.3 C161.6 368.3 163.1 372.3 159.6 375.3 C156.1 377.8 152.6 375.3 153.6 371.3 C154.6 367.3 152.1 364.3 154.1 361.3 Z" fill="#dde22c"/>
<ellipse cx="179.1" cy="387.3" rx="8.1" ry="4.5" fill="#dde22c" transform="rotate(6 179.1 387.3)"/>
<path d="M192.1 410.3 C196.1 409.3 200.1 412.3 199.1 416.3 C197.1 419.3 193.1 417.3 192.1 410.3 Z" fill="#c8c830" opacity="0.8"/>
</g>
<line x1="122.1" y1="343.3" x2="215.6" y2="436.6" stroke="#f0f0f0" stroke-width="0.9" stroke-dasharray="1.2,1.6"/>
<text x="124.8" y="429.0" font-size="8.0" font-weight="bold" text-anchor="start" fill="#e83020">SiR-BG</text>
<text x="125.1" y="352.1" font-size="8.4" font-weight="bold" text-anchor="start" fill="#f4f4f4">a)</text>
<text x="211.4" y="353.5" font-size="8.4" font-weight="bold" text-anchor="end" fill="#e6c232">MaP555-TMP</text>
<text x="205.1" y="433.8" font-size="8.4" font-weight="bold" text-anchor="end" fill="#f4f4f4">3 min</text>
<rect x="217.8" y="343.3" width="93.5" height="93.3" fill="#060606"/>
<g filter="url(#bl07)">
<ellipse cx="224.60000000000002" cy="381.7" rx="5.0" ry="5.0" fill="#e02418"/>
<ellipse cx="245.10000000000002" cy="392.6" rx="4.9" ry="5.2" fill="#e02418"/>
<ellipse cx="287.4" cy="416.20000000000005" rx="5.8" ry="5.4" fill="#8a1814"/>
</g>
<line x1="217.8" y1="343.3" x2="311.3" y2="436.6" stroke="#f0f0f0" stroke-width="0.9" stroke-dasharray="1.2,1.6"/>
<text x="220.5" y="429.0" font-size="8.0" font-weight="bold" text-anchor="start" fill="#e83020">SiR-BG</text>
<text x="220.8" y="352.1" font-size="8.4" font-weight="bold" text-anchor="start" fill="#f4f4f4">b)</text>
<text x="300.8" y="433.8" font-size="8.4" font-weight="bold" text-anchor="end" fill="#f4f4f4">8 min</text>
<rect x="313.5" y="343.3" width="93.5" height="93.3" fill="#060606"/>
<rect x="313.5" y="343.3" width="93.5" height="93.3" fill="#0b0d06"/>
<g filter="url(#bl07)">
<ellipse cx="320.3" cy="381.7" rx="5.0" ry="5.0" fill="#e02418"/>
<ellipse cx="340.8" cy="392.6" rx="4.9" ry="5.2" fill="#e02418"/>
<ellipse cx="383.1" cy="416.20000000000005" rx="5.8" ry="5.4" fill="#8a1814"/>
</g>
<g filter="url(#bl1)">
<path d="M345.5 361.3 C347.5 358.3 352.0 359.3 352.0 364.3 C353.0 368.3 354.5 372.3 351.0 375.3 C347.5 377.8 344.0 375.3 345.0 371.3 C346.0 367.3 343.5 364.3 345.5 361.3 Z" fill="#dde22c"/>
<ellipse cx="370.5" cy="387.3" rx="8.1" ry="4.5" fill="#dde22c" transform="rotate(6 370.5 387.3)"/>
<path d="M383.5 410.3 C387.5 409.3 391.5 412.3 390.5 416.3 C388.5 419.3 384.5 417.3 383.5 410.3 Z" fill="#c8c830" opacity="0.8"/>
</g>
<line x1="313.5" y1="343.3" x2="407.0" y2="436.6" stroke="#f0f0f0" stroke-width="0.9" stroke-dasharray="1.2,1.6"/>
<text x="316.2" y="429.0" font-size="8.0" font-weight="bold" text-anchor="start" fill="#e83020">SiR-BG</text>
<text x="316.5" y="352.1" font-size="8.4" font-weight="bold" text-anchor="start" fill="#f4f4f4">c)</text>
<text x="402.8" y="353.5" font-size="8.4" font-weight="bold" text-anchor="end" fill="#e6c232">MaP555-TMP</text>
<text x="396.5" y="433.8" font-size="8.4" font-weight="bold" text-anchor="end" fill="#f4f4f4">16 min</text>
<line x1="316.0" y1="434.6" x2="328.0" y2="434.6" stroke="#d8d8d8" stroke-width="1.3"/>
<text x="123.4" y="446.4" font-size="10.2" font-weight="bold" text-anchor="middle" fill="#111">stain</text>
<text x="222.7" y="446.4" font-size="10.2" font-weight="bold" text-anchor="middle" fill="#111">wash</text>
<text x="317.3" y="446.4" font-size="10.2" font-weight="bold" text-anchor="middle" fill="#111">stain</text>
<line x1="152.7" y1="442.7" x2="192.0" y2="442.7" stroke="#111" stroke-width="1.1"/>
<path d="M196.0 442.7 L191.0 440.8 L191.0 444.6 Z" fill="#111"/>
<line x1="249.5" y1="442.7" x2="289.0" y2="442.7" stroke="#111" stroke-width="1.1"/>
<path d="M293.0 442.7 L288.0 440.8 L288.0 444.6 Z" fill="#111"/>
<text x="413.8" y="333.2" font-size="12.5" font-weight="bold" text-anchor="start" fill="#111">g</text>
<rect x="441.5" y="332.1" width="104.89999999999998" height="105.09999999999997" fill="none" stroke="#1a1a1a" stroke-width="1.1"/>
<line x1="437.5" y1="437.2" x2="441.5" y2="437.2" stroke="#1a1a1a" stroke-width="1.1"/>
<text x="436.0" y="440.09999999999997" font-size="7.9" font-weight="bold" text-anchor="end" fill="#111">0.0</text>
<line x1="437.5" y1="402.1666666666667" x2="441.5" y2="402.1666666666667" stroke="#1a1a1a" stroke-width="1.1"/>
<text x="436.0" y="405.06666666666666" font-size="7.9" font-weight="bold" text-anchor="end" fill="#111">0.5</text>
<line x1="437.5" y1="367.1333333333333" x2="441.5" y2="367.1333333333333" stroke="#1a1a1a" stroke-width="1.1"/>
<text x="436.0" y="370.0333333333333" font-size="7.9" font-weight="bold" text-anchor="end" fill="#111">1.0</text>
<line x1="437.5" y1="332.1" x2="441.5" y2="332.1" stroke="#1a1a1a" stroke-width="1.1"/>
<text x="436.0" y="335.0" font-size="7.9" font-weight="bold" text-anchor="end" fill="#111">1.5</text>
<line x1="441.5" y1="437.2" x2="441.5" y2="440.7" stroke="#1a1a1a" stroke-width="1.1"/>
<text x="441.5" y="450.3" font-size="8.0" font-weight="bold" text-anchor="middle" fill="#111">0</text>
<line x1="462.48" y1="437.2" x2="462.48" y2="440.7" stroke="#1a1a1a" stroke-width="1.1"/>
<text x="462.48" y="450.3" font-size="8.0" font-weight="bold" text-anchor="middle" fill="#111">4</text>
<line x1="483.46" y1="437.2" x2="483.46" y2="440.7" stroke="#1a1a1a" stroke-width="1.1"/>
<text x="483.46" y="450.3" font-size="8.0" font-weight="bold" text-anchor="middle" fill="#111">8</text>
<line x1="504.44" y1="437.2" x2="504.44" y2="440.7" stroke="#1a1a1a" stroke-width="1.1"/>
<text x="504.44" y="450.3" font-size="8.0" font-weight="bold" text-anchor="middle" fill="#111">12</text>
<line x1="525.42" y1="437.2" x2="525.42" y2="440.7" stroke="#1a1a1a" stroke-width="1.1"/>
<text x="525.42" y="450.3" font-size="8.0" font-weight="bold" text-anchor="middle" fill="#111">16</text>
<line x1="546.4" y1="437.2" x2="546.4" y2="440.7" stroke="#1a1a1a" stroke-width="1.1"/>
<text x="546.4" y="450.3" font-size="8.0" font-weight="bold" text-anchor="middle" fill="#111">20</text>
<text x="494.0" y="464.0" font-size="9.0" font-weight="bold" text-anchor="middle" fill="#111">Time (min)</text>
<text x="419.9" y="383.3" font-size="9.0" font-weight="bold" text-anchor="middle" fill="#111" transform="rotate(-90 419.9 383.3)">Nomalized Fluo. Int.</text>
<path d="M441.50,437.20 L446.75,378.34 L451.99,376.03 L457.24,371.55 L462.48,367.13 L467.73,367.13 L472.97,431.10 L478.21,432.65 L483.46,433.70 L488.70,434.75 L493.95,435.10 L499.19,435.45 L504.44,435.45 L509.69,401.68 L514.93,385.35 L520.17,374.42 L525.42,370.64 L530.66,369.24 L535.91,367.83 L541.15,367.13" fill="none" stroke="#8c8cdc" stroke-width="3.1" stroke-linejoin="round"/>
<circle cx="441.50" cy="437.20" r="1.85" fill="#5050aa" stroke="#262668" stroke-width="1.0"/>
<circle cx="446.75" cy="378.34" r="1.85" fill="#5050aa" stroke="#262668" stroke-width="1.0"/>
<circle cx="451.99" cy="376.03" r="1.85" fill="#5050aa" stroke="#262668" stroke-width="1.0"/>
<circle cx="457.24" cy="371.55" r="1.85" fill="#5050aa" stroke="#262668" stroke-width="1.0"/>
<circle cx="462.48" cy="367.13" r="1.85" fill="#5050aa" stroke="#262668" stroke-width="1.0"/>
<circle cx="467.73" cy="367.13" r="1.85" fill="#5050aa" stroke="#262668" stroke-width="1.0"/>
<circle cx="472.97" cy="431.10" r="1.85" fill="#5050aa" stroke="#262668" stroke-width="1.0"/>
<circle cx="478.21" cy="432.65" r="1.85" fill="#5050aa" stroke="#262668" stroke-width="1.0"/>
<circle cx="483.46" cy="433.70" r="1.85" fill="#5050aa" stroke="#262668" stroke-width="1.0"/>
<circle cx="488.70" cy="434.75" r="1.85" fill="#5050aa" stroke="#262668" stroke-width="1.0"/>
<circle cx="493.95" cy="435.10" r="1.85" fill="#5050aa" stroke="#262668" stroke-width="1.0"/>
<circle cx="499.19" cy="435.45" r="1.85" fill="#5050aa" stroke="#262668" stroke-width="1.0"/>
<circle cx="504.44" cy="435.45" r="1.85" fill="#5050aa" stroke="#262668" stroke-width="1.0"/>
<circle cx="509.69" cy="401.68" r="1.85" fill="#5050aa" stroke="#262668" stroke-width="1.0"/>
<circle cx="514.93" cy="385.35" r="1.85" fill="#5050aa" stroke="#262668" stroke-width="1.0"/>
<circle cx="520.17" cy="374.42" r="1.85" fill="#5050aa" stroke="#262668" stroke-width="1.0"/>
<circle cx="525.42" cy="370.64" r="1.85" fill="#5050aa" stroke="#262668" stroke-width="1.0"/>
<circle cx="530.66" cy="369.24" r="1.85" fill="#5050aa" stroke="#262668" stroke-width="1.0"/>
<circle cx="535.91" cy="367.83" r="1.85" fill="#5050aa" stroke="#262668" stroke-width="1.0"/>
<circle cx="541.15" cy="367.13" r="1.85" fill="#5050aa" stroke="#262668" stroke-width="1.0"/>
<text x="451.8" y="350.0" font-size="7.2" font-weight="bold" text-anchor="middle" fill="#111">Stain</text>
<line x1="446.7" y1="351.4" x2="446.7" y2="371.5" stroke="#111" stroke-width="1.0"/>
<path d="M446.7 375.5 L444.8 370.5 L448.59999999999997 370.5 Z" fill="#111"/>
<text x="471.6" y="356.7" font-size="7.2" font-weight="bold" text-anchor="middle" fill="#111">Wash</text>
<line x1="469.8" y1="361.0" x2="469.8" y2="381.5" stroke="#111" stroke-width="1.0"/>
<path d="M469.8 385.5 L467.90000000000003 380.5 L471.7 380.5 Z" fill="#111"/>
<text x="511.4" y="370.2" font-size="7.2" font-weight="bold" text-anchor="middle" fill="#111">Stain</text>
<line x1="509.6" y1="373.5" x2="509.6" y2="392.5" stroke="#111" stroke-width="1.0"/>
<path d="M509.6 396.5 L507.70000000000005 391.5 L511.5 391.5 Z" fill="#111"/>
<text x="558.7" y="334.3" font-size="12.5" font-weight="bold" text-anchor="start" fill="#111">h</text>
<rect x="589.4" y="329.9" width="71.60000000000002" height="108.30000000000001" fill="none" stroke="#1a1a1a" stroke-width="1.1"/>
<line x1="585.6" y1="438.2" x2="589.4" y2="438.2" stroke="#1a1a1a" stroke-width="1.1"/>
<text x="584.4" y="441.2" font-size="8.3" font-weight="bold" text-anchor="end" fill="#111">0</text>
<line x1="661.0" y1="438.2" x2="664.8" y2="438.2" stroke="#1a1a1a" stroke-width="1.1"/>
<text x="666.2" y="441.2" font-size="8.3" font-weight="bold" text-anchor="start" fill="#111">0</text>
<line x1="585.6" y1="411.175" x2="589.4" y2="411.175" stroke="#1a1a1a" stroke-width="1.1"/>
<text x="584.4" y="414.175" font-size="8.3" font-weight="bold" text-anchor="end" fill="#111">20</text>
<line x1="661.0" y1="411.175" x2="664.8" y2="411.175" stroke="#1a1a1a" stroke-width="1.1"/>
<text x="666.2" y="414.175" font-size="8.3" font-weight="bold" text-anchor="start" fill="#111">1</text>
<line x1="585.6" y1="384.15000000000003" x2="589.4" y2="384.15000000000003" stroke="#1a1a1a" stroke-width="1.1"/>
<text x="584.4" y="387.15000000000003" font-size="8.3" font-weight="bold" text-anchor="end" fill="#111">40</text>
<line x1="661.0" y1="384.15000000000003" x2="664.8" y2="384.15000000000003" stroke="#1a1a1a" stroke-width="1.1"/>
<text x="666.2" y="387.15000000000003" font-size="8.3" font-weight="bold" text-anchor="start" fill="#111">2</text>
<line x1="585.6" y1="357.125" x2="589.4" y2="357.125" stroke="#1a1a1a" stroke-width="1.1"/>
<text x="584.4" y="360.125" font-size="8.3" font-weight="bold" text-anchor="end" fill="#111">60</text>
<line x1="661.0" y1="357.125" x2="664.8" y2="357.125" stroke="#1a1a1a" stroke-width="1.1"/>
<text x="666.2" y="360.125" font-size="8.3" font-weight="bold" text-anchor="start" fill="#111">3</text>
<line x1="585.6" y1="330.1" x2="589.4" y2="330.1" stroke="#1a1a1a" stroke-width="1.1"/>
<text x="584.4" y="333.1" font-size="8.3" font-weight="bold" text-anchor="end" fill="#111">80</text>
<line x1="661.0" y1="330.1" x2="664.8" y2="330.1" stroke="#1a1a1a" stroke-width="1.1"/>
<text x="666.2" y="333.1" font-size="8.3" font-weight="bold" text-anchor="start" fill="#111">4</text>
<line x1="598.9" y1="438.2" x2="598.9" y2="441.7" stroke="#1a1a1a" stroke-width="1.1"/>
<line x1="624.3" y1="438.2" x2="624.3" y2="441.7" stroke="#1a1a1a" stroke-width="1.1"/>
<line x1="650.7" y1="438.2" x2="650.7" y2="441.7" stroke="#1a1a1a" stroke-width="1.1"/>
<line x1="612.0" y1="331" x2="612.0" y2="438.2" stroke="#111" stroke-width="1.2" stroke-dasharray="2.6,1.6"/>
<text x="611.7" y="448.8" font-size="7.2" font-weight="bold" text-anchor="middle" fill="#111">ReTag1</text>
<text x="650.7" y="448.8" font-size="7.2" font-weight="bold" text-anchor="middle" fill="#111">TMP-Tag</text>
<line x1="589.4" y1="452.2" x2="665.0" y2="452.2" stroke="#1a1a1a" stroke-width="1.0"/>
<text x="625.5" y="461.8" font-size="7.5" font-weight="bold" text-anchor="middle" fill="#111">MaP555-TMP</text>
<text x="637.9" y="346.5" font-size="9.0" font-weight="normal" text-anchor="middle" fill="#111">ns</text>
<path d="M624.50,356.90 L624.50,351.10 L651.00,351.10 L651.00,356.90" fill="none" stroke="#111" stroke-width="1.0" stroke-linejoin="round"/>
<text x="567.6" y="383.6" font-size="8.6" font-weight="bold" text-anchor="middle" fill="#111" transform="rotate(-90 567.6 383.6)">F<tspan font-size="6.2" dy="2">nuc</tspan><tspan dy="-2">/F</tspan><tspan font-size="6.2" dy="2">cyt</tspan></text>
<text x="682.0" y="381.4" font-size="7.8" font-weight="bold" text-anchor="middle" fill="#111" transform="rotate(-90 682.0 381.4)">Brightness</text>
<line x1="599.3" y1="341.3" x2="599.3" y2="406.2" stroke="#111" stroke-width="1.3"/>
<circle cx="598.50" cy="351.50" r="2.3" fill="#111"/>
<circle cx="600.10" cy="351.50" r="2.3" fill="#111"/>
<circle cx="597.90" cy="354.00" r="2.3" fill="#111"/>
<circle cx="600.70" cy="354.00" r="2.3" fill="#111"/>
<circle cx="597.70" cy="356.50" r="2.3" fill="#111"/>
<circle cx="600.90" cy="356.50" r="2.3" fill="#111"/>
<circle cx="597.70" cy="359.00" r="2.3" fill="#111"/>
<circle cx="600.90" cy="359.00" r="2.3" fill="#111"/>
<circle cx="598.10" cy="361.50" r="2.3" fill="#111"/>
<circle cx="600.50" cy="361.50" r="2.3" fill="#111"/>
<circle cx="599.30" cy="365.50" r="2.1" fill="#111"/>
<circle cx="597.50" cy="369.00" r="2.3" fill="#111"/>
<circle cx="599.30" cy="369.00" r="2.3" fill="#111"/>
<circle cx="601.10" cy="369.00" r="2.3" fill="#111"/>
<circle cx="596.30" cy="371.50" r="2.3" fill="#111"/>
<circle cx="599.30" cy="371.50" r="2.3" fill="#111"/>
<circle cx="602.30" cy="371.50" r="2.3" fill="#111"/>
<circle cx="595.90" cy="374.00" r="2.3" fill="#111"/>
<circle cx="599.30" cy="374.00" r="2.3" fill="#111"/>
<circle cx="602.70" cy="374.00" r="2.3" fill="#111"/>
<circle cx="596.30" cy="376.50" r="2.3" fill="#111"/>
<circle cx="599.30" cy="376.50" r="2.3" fill="#111"/>
<circle cx="602.30" cy="376.50" r="2.3" fill="#111"/>
<circle cx="597.50" cy="379.00" r="2.3" fill="#111"/>
<circle cx="599.30" cy="379.00" r="2.3" fill="#111"/>
<circle cx="601.10" cy="379.00" r="2.3" fill="#111"/>
<circle cx="599.30" cy="382.50" r="2.4" fill="#111"/>
<circle cx="599.30" cy="387.40" r="2.4" fill="#111"/>
<circle cx="599.30" cy="395.00" r="2.4" fill="#111"/>
<line x1="625.0" y1="390.4" x2="625.0" y2="422.1" stroke="#56288c" stroke-width="1.3"/>
<circle cx="623.80" cy="396.40" r="2.3" fill="#56288c"/>
<circle cx="626.20" cy="396.40" r="2.3" fill="#56288c"/>
<circle cx="625.00" cy="401.00" r="2.0" fill="#56288c"/>
<circle cx="623.80" cy="405.00" r="2.3" fill="#56288c"/>
<circle cx="625.00" cy="405.00" r="2.3" fill="#56288c"/>
<circle cx="626.20" cy="405.00" r="2.3" fill="#56288c"/>
<circle cx="623.00" cy="408.00" r="2.3" fill="#56288c"/>
<circle cx="625.00" cy="408.00" r="2.3" fill="#56288c"/>
<circle cx="627.00" cy="408.00" r="2.3" fill="#56288c"/>
<circle cx="622.20" cy="411.00" r="2.3" fill="#56288c"/>
<circle cx="625.00" cy="411.00" r="2.3" fill="#56288c"/>
<circle cx="627.80" cy="411.00" r="2.3" fill="#56288c"/>
<circle cx="622.40" cy="414.00" r="2.3" fill="#56288c"/>
<circle cx="625.00" cy="414.00" r="2.3" fill="#56288c"/>
<circle cx="627.60" cy="414.00" r="2.3" fill="#56288c"/>
<circle cx="623.40" cy="417.00" r="2.3" fill="#56288c"/>
<circle cx="625.00" cy="417.00" r="2.3" fill="#56288c"/>
<circle cx="626.60" cy="417.00" r="2.3" fill="#56288c"/>
<line x1="650.7" y1="370.8" x2="650.7" y2="418.3" stroke="#a83a82" stroke-width="1.3"/>
<circle cx="650.70" cy="377.50" r="2.3" fill="#a83a82"/>
<circle cx="650.70" cy="381.50" r="2.0" fill="#a83a82"/>
<circle cx="649.30" cy="384.50" r="2.2" fill="#a83a82"/>
<circle cx="650.70" cy="384.50" r="2.2" fill="#a83a82"/>
<circle cx="652.10" cy="384.50" r="2.2" fill="#a83a82"/>
<circle cx="648.30" cy="387.50" r="2.2" fill="#a83a82"/>
<circle cx="650.70" cy="387.50" r="2.2" fill="#a83a82"/>
<circle cx="653.10" cy="387.50" r="2.2" fill="#a83a82"/>
<circle cx="647.70" cy="390.50" r="2.2" fill="#a83a82"/>
<circle cx="650.70" cy="390.50" r="2.2" fill="#a83a82"/>
<circle cx="653.70" cy="390.50" r="2.2" fill="#a83a82"/>
<circle cx="647.30" cy="393.50" r="2.2" fill="#a83a82"/>
<circle cx="650.70" cy="393.50" r="2.2" fill="#a83a82"/>
<circle cx="654.10" cy="393.50" r="2.2" fill="#a83a82"/>
<circle cx="647.90" cy="396.50" r="2.2" fill="#a83a82"/>
<circle cx="650.70" cy="396.50" r="2.2" fill="#a83a82"/>
<circle cx="653.50" cy="396.50" r="2.2" fill="#a83a82"/>
<circle cx="648.90" cy="399.50" r="2.2" fill="#a83a82"/>
<circle cx="650.70" cy="399.50" r="2.2" fill="#a83a82"/>
<circle cx="652.50" cy="399.50" r="2.2" fill="#a83a82"/>
<circle cx="650.70" cy="404.00" r="1.8" fill="#a83a82"/>
<circle cx="649.30" cy="410.50" r="2.3" fill="#a83a82"/>
<circle cx="652.10" cy="410.50" r="2.3" fill="#a83a82"/>
<circle cx="650.70" cy="412.50" r="2.3" fill="#a83a82"/>
<text x="9.5" y="481.5" font-size="12.5" font-weight="bold" text-anchor="start" fill="#111">i</text>
<defs><linearGradient id="bar" x1="27" y1="0" x2="446" y2="0" gradientUnits="userSpaceOnUse"><stop offset="0" stop-color="#e0e848"/><stop offset="0.11" stop-color="#e2e64c"/><stop offset="0.2" stop-color="#e2d862"/><stop offset="0.27" stop-color="#e6ce74"/><stop offset="1" stop-color="#eacc7a"/></linearGradient><radialGradient id="glow"><stop offset="0.4" stop-color="#f4eaa8" stop-opacity="1"/><stop offset="0.75" stop-color="#f8f2cc" stop-opacity="0.8"/><stop offset="1" stop-color="#fcf9e6" stop-opacity="0"/></radialGradient></defs>
<path d="M27 474.5 L438.7 474.5 L438.7 471.8 L445.8 477.7 L438.7 483.2 L438.7 480.9 L27 480.9 Z" fill="url(#bar)"/>
<text x="101.2" y="479.7" font-size="6.0" font-weight="bold" text-anchor="middle" fill="#111">Bleaching</text>
<text x="187.7" y="479.7" font-size="6.0" font-weight="bold" text-anchor="middle" fill="#111">Bleaching</text>
<text x="284.1" y="479.7" font-size="6.0" font-weight="bold" text-anchor="middle" fill="#111">Bleaching</text>
<text x="379.0" y="479.7" font-size="6.0" font-weight="bold" text-anchor="middle" fill="#111">Bleaching</text>
<text x="142.3" y="479.7" font-size="6.0" font-weight="bold" text-anchor="middle" fill="#111">Recover</text>
<text x="236.5" y="479.7" font-size="6.0" font-weight="bold" text-anchor="middle" fill="#111">Recover</text>
<text x="329.3" y="479.7" font-size="6.0" font-weight="bold" text-anchor="middle" fill="#111">Recover</text>
<text x="418.3" y="479.7" font-size="6.0" font-weight="bold" text-anchor="middle" fill="#111">Recover</text>
<circle cx="46.4" cy="463.7" r="8.4" fill="url(#glow)"/>
<path d="M42.3 462.9 A4.1 4.1 0 1 1 50.5 462.9 C50.5 465.5 48.3 467.2 48.1 469.5 L44.699999999999996 469.5 C44.5 467.2 42.3 465.5 42.3 462.9 Z" fill="#eeb535"/>
<rect x="44.9" y="469.5" width="3.0" height="4.0" fill="#9a9cb0"/>
<circle cx="139.5" cy="463.7" r="8.4" fill="url(#glow)"/>
<path d="M135.4 462.9 A4.1 4.1 0 1 1 143.6 462.9 C143.6 465.5 141.4 467.2 141.2 469.5 L137.8 469.5 C137.6 467.2 135.4 465.5 135.4 462.9 Z" fill="#eeb535"/>
<rect x="138.0" y="469.5" width="3.0" height="4.0" fill="#9a9cb0"/>
<circle cx="235.2" cy="463.7" r="8.4" fill="url(#glow)"/>
<path d="M231.1 462.9 A4.1 4.1 0 1 1 239.29999999999998 462.9 C239.29999999999998 465.5 237.1 467.2 236.89999999999998 469.5 L233.5 469.5 C233.29999999999998 467.2 231.1 465.5 231.1 462.9 Z" fill="#eeb535"/>
<rect x="233.7" y="469.5" width="3.0" height="4.0" fill="#9a9cb0"/>
<circle cx="327.0" cy="463.7" r="8.4" fill="url(#glow)"/>
<path d="M322.9 462.9 A4.1 4.1 0 1 1 331.1 462.9 C331.1 465.5 328.9 467.2 328.7 469.5 L325.3 469.5 C325.1 467.2 322.9 465.5 322.9 462.9 Z" fill="#eeb535"/>
<rect x="325.5" y="469.5" width="3.0" height="4.0" fill="#9a9cb0"/>
<circle cx="417.9" cy="463.7" r="8.4" fill="url(#glow)"/>
<path d="M413.79999999999995 462.9 A4.1 4.1 0 1 1 422.0 462.9 C422.0 465.5 419.79999999999995 467.2 419.59999999999997 469.5 L416.2 469.5 C416.0 467.2 413.79999999999995 465.5 413.79999999999995 462.9 Z" fill="#eeb535"/>
<rect x="416.4" y="469.5" width="3.0" height="4.0" fill="#9a9cb0"/>
<path d="M95.40 459.80 L101.80 460.50 L98.70 463.90 L101.40 464.30 L95.00 472.40 L96.90 466.70 L95.10 466.40 L97.60 462.70 L95.00 462.40 Z" fill="#e87428"/>
<path d="M186.60 459.80 L193.00 460.50 L189.90 463.90 L192.60 464.30 L186.20 472.40 L188.10 466.70 L186.30 466.40 L188.80 462.70 L186.20 462.40 Z" fill="#e87428"/>
<path d="M281.40 459.80 L287.80 460.50 L284.70 463.90 L287.40 464.30 L281.00 472.40 L282.90 466.70 L281.10 466.40 L283.60 462.70 L281.00 462.40 Z" fill="#e87428"/>
<path d="M373.50 459.80 L379.90 460.50 L376.80 463.90 L379.50 464.30 L373.10 472.40 L375.00 466.70 L373.20 466.40 L375.70 462.70 L373.10 462.40 Z" fill="#e87428"/>
<rect x="27.00" y="485.1" width="44.6" height="53.8" fill="#070707"/>
<path d="M37.9 511.40000000000003 C37.4 504.40000000000003 45.4 501.40000000000003 53.4 501.40000000000003 C61.4 501.40000000000003 67.4 505.90000000000003 67.4 512.9000000000001 C67.4 518.9000000000001 61.4 521.4000000000001 55.4 521.4000000000001 C52.4 521.4000000000001 50.4 519.9000000000001 47.4 520.4000000000001 C42.4 521.9000000000001 37.9 516.9000000000001 37.9 511.40000000000003 Z" fill="url(#nucA)" filter="url(#bl1)"/>
<g filter="url(#bl1)">
<circle cx="58.6" cy="510.5" r="1.3" fill="#f02c24" opacity="0.8"/>
<circle cx="54.1" cy="509.9" r="1.9" fill="#f02c24" opacity="0.8"/>
<circle cx="55.0" cy="508.3" r="2.2" fill="#f02c24" opacity="0.8"/>
<circle cx="52.1" cy="509.8" r="2.0" fill="#f02c24" opacity="0.8"/>
<circle cx="59.2" cy="512.1" r="1.5" fill="#f02c24" opacity="0.8"/>
<circle cx="55.2" cy="511.2" r="2.3" fill="#f02c24" opacity="0.8"/>
<circle cx="47.3" cy="512.5" r="1.6" fill="#a81a10" opacity="0.6"/>
<circle cx="45.3" cy="513.8" r="1.5" fill="#a81a10" opacity="0.6"/>
<circle cx="54.1" cy="513.8" r="1.0" fill="#a81a10" opacity="0.6"/>
</g>
<text x="69.8" y="493.6" font-size="9.0" font-weight="bold" text-anchor="end" fill="#f6f6f6">0 min</text>
<rect x="73.58" y="485.1" width="44.6" height="53.8" fill="#070707"/>
<path d="M84.47999999999999 511.9 C83.97999999999999 504.9 91.97999999999999 501.9 99.97999999999999 501.9 C107.97999999999999 501.9 113.97999999999999 506.4 113.97999999999999 513.4 C113.97999999999999 519.4 107.97999999999999 521.9 101.97999999999999 521.9 C98.97999999999999 521.9 96.97999999999999 520.4 93.97999999999999 520.9 C88.97999999999999 522.4 84.47999999999999 517.4 84.47999999999999 511.9 Z" fill="url(#nucA)" filter="url(#bl1)"/>
<g filter="url(#bl1)">
<circle cx="97.6" cy="508.7" r="1.9" fill="#f02c24" opacity="0.8"/>
<circle cx="108.0" cy="509.3" r="1.6" fill="#f02c24" opacity="0.8"/>
<circle cx="99.9" cy="507.6" r="1.3" fill="#f02c24" opacity="0.8"/>
<circle cx="93.5" cy="508.8" r="2.2" fill="#f02c24" opacity="0.8"/>
<circle cx="95.7" cy="507.4" r="1.4" fill="#f02c24" opacity="0.8"/>
<circle cx="106.2" cy="508.6" r="1.9" fill="#f02c24" opacity="0.8"/>
<circle cx="97.0" cy="509.2" r="1.5" fill="#a81a10" opacity="0.6"/>
<circle cx="105.6" cy="512.6" r="1.3" fill="#a81a10" opacity="0.6"/>
<circle cx="92.9" cy="514.6" r="1.3" fill="#a81a10" opacity="0.6"/>
</g>
<rect x="94.08" y="509.0" width="9.2" height="6.5" fill="#4a0806" opacity="0.2" filter="url(#bl07)"/>
<rect x="93.58" y="508.5" width="10.2" height="7.5" fill="none" stroke="#e4e4e4" stroke-width="0.75"/>
<text x="116.38000000000001" y="493.6" font-size="9.0" font-weight="bold" text-anchor="end" fill="#f6f6f6">1.5 min</text>
<rect x="120.16" y="485.1" width="44.6" height="53.8" fill="#070707"/>
<path d="M131.06 512.4 C130.56 505.4 138.56 502.4 146.56 502.4 C154.56 502.4 160.56 506.9 160.56 513.9 C160.56 519.9 154.56 522.4 148.56 522.4 C145.56 522.4 143.56 520.9 140.56 521.4 C135.56 522.9 131.06 517.9 131.06 512.4 Z" fill="url(#nucA)" filter="url(#bl1)"/>
<g filter="url(#bl1)">
<circle cx="140.0" cy="511.6" r="1.7" fill="#f02c24" opacity="0.8"/>
<circle cx="137.3" cy="517.2" r="1.3" fill="#f02c24" opacity="0.8"/>
<circle cx="154.0" cy="509.9" r="2.2" fill="#f02c24" opacity="0.8"/>
<circle cx="149.4" cy="513.9" r="1.4" fill="#f02c24" opacity="0.8"/>
<circle cx="142.5" cy="516.4" r="1.8" fill="#f02c24" opacity="0.8"/>
<circle cx="147.2" cy="517.8" r="1.5" fill="#f02c24" opacity="0.8"/>
<circle cx="146.9" cy="509.2" r="1.2" fill="#a81a10" opacity="0.6"/>
<circle cx="146.8" cy="510.8" r="1.2" fill="#a81a10" opacity="0.6"/>
<circle cx="143.7" cy="514.9" r="1.7" fill="#a81a10" opacity="0.6"/>
</g>
<rect x="140.66" y="509.0" width="10.2" height="7.5" fill="none" stroke="#e4e4e4" stroke-width="0.75"/>
<text x="162.95999999999998" y="493.6" font-size="9.0" font-weight="bold" text-anchor="end" fill="#f6f6f6">5 min</text>
<rect x="166.74" y="485.1" width="44.6" height="53.8" fill="#070707"/>
<path d="M177.64000000000001 512.9 C177.14000000000001 505.9 185.14000000000001 502.9 193.14000000000001 502.9 C201.14000000000001 502.9 207.14000000000001 507.4 207.14000000000001 514.4 C207.14000000000001 520.4 201.14000000000001 522.9 195.14000000000001 522.9 C192.14000000000001 522.9 190.14000000000001 521.4 187.14000000000001 521.9 C182.14000000000001 523.4 177.64000000000001 518.4 177.64000000000001 512.9 Z" fill="url(#nucA)" filter="url(#bl1)"/>
<g filter="url(#bl1)">
<circle cx="198.4" cy="511.2" r="2.3" fill="#f02c24" opacity="0.8"/>
<circle cx="187.8" cy="517.2" r="1.3" fill="#f02c24" opacity="0.8"/>
<circle cx="198.9" cy="517.0" r="1.2" fill="#f02c24" opacity="0.8"/>
<circle cx="192.3" cy="508.7" r="2.0" fill="#f02c24" opacity="0.8"/>
<circle cx="188.4" cy="511.7" r="1.3" fill="#f02c24" opacity="0.8"/>
<circle cx="194.1" cy="517.3" r="1.4" fill="#f02c24" opacity="0.8"/>
<circle cx="200.1" cy="511.2" r="1.5" fill="#a81a10" opacity="0.6"/>
<circle cx="185.2" cy="514.1" r="1.5" fill="#a81a10" opacity="0.6"/>
<circle cx="186.3" cy="512.1" r="1.3" fill="#a81a10" opacity="0.6"/>
</g>
<rect x="186.44" y="510.0" width="9.2" height="6.5" fill="#4a0806" opacity="0.2" filter="url(#bl07)"/>
<rect x="185.94" y="509.5" width="10.2" height="7.5" fill="none" stroke="#e4e4e4" stroke-width="0.75"/>
<text x="209.54" y="493.6" font-size="9.0" font-weight="bold" text-anchor="end" fill="#f6f6f6">6.5 min</text>
<rect x="213.32" y="485.1" width="44.6" height="53.8" fill="#070707"/>
<path d="M224.22 513.4 C223.72 506.4 231.72 503.4 239.72 503.4 C247.72 503.4 253.72 507.9 253.72 514.9 C253.72 520.9 247.72 523.4 241.72 523.4 C238.72 523.4 236.72 521.9 233.72 522.4 C228.72 523.9 224.22 518.9 224.22 513.4 Z" fill="url(#nucA)" filter="url(#bl1)"/>
<g filter="url(#bl1)">
<circle cx="230.5" cy="512.4" r="2.1" fill="#f02c24" opacity="0.8"/>
<circle cx="239.3" cy="511.2" r="2.3" fill="#f02c24" opacity="0.8"/>
<circle cx="246.4" cy="509.9" r="1.3" fill="#f02c24" opacity="0.8"/>
<circle cx="239.5" cy="516.1" r="2.2" fill="#f02c24" opacity="0.8"/>
<circle cx="231.2" cy="513.4" r="1.8" fill="#f02c24" opacity="0.8"/>
<circle cx="235.8" cy="510.2" r="1.5" fill="#f02c24" opacity="0.8"/>
<circle cx="236.8" cy="510.5" r="1.3" fill="#a81a10" opacity="0.6"/>
<circle cx="231.7" cy="512.6" r="1.6" fill="#a81a10" opacity="0.6"/>
<circle cx="241.3" cy="514.2" r="1.8" fill="#a81a10" opacity="0.6"/>
</g>
<rect x="233.12" y="510.0" width="10.2" height="7.5" fill="none" stroke="#e4e4e4" stroke-width="0.75"/>
<text x="256.12" y="493.6" font-size="9.0" font-weight="bold" text-anchor="end" fill="#f6f6f6">10 min</text>
<rect x="259.90" y="485.1" width="44.6" height="53.8" fill="#070707"/>
<path d="M270.79999999999995 513.4 C270.29999999999995 506.4 278.29999999999995 503.4 286.29999999999995 503.4 C294.29999999999995 503.4 300.29999999999995 507.9 300.29999999999995 514.9 C300.29999999999995 520.9 294.29999999999995 523.4 288.29999999999995 523.4 C285.29999999999995 523.4 283.29999999999995 521.9 280.29999999999995 522.4 C275.29999999999995 523.9 270.79999999999995 518.9 270.79999999999995 513.4 Z" fill="url(#nucA)" filter="url(#bl1)"/>
<g filter="url(#bl1)">
<circle cx="285.4" cy="512.2" r="2.0" fill="#f02c24" opacity="0.8"/>
<circle cx="293.9" cy="517.2" r="1.7" fill="#f02c24" opacity="0.8"/>
<circle cx="288.5" cy="515.8" r="1.9" fill="#f02c24" opacity="0.8"/>
<circle cx="290.2" cy="513.5" r="1.7" fill="#f02c24" opacity="0.8"/>
<circle cx="290.8" cy="510.3" r="2.1" fill="#f02c24" opacity="0.8"/>
<circle cx="282.0" cy="511.4" r="1.4" fill="#f02c24" opacity="0.8"/>
<circle cx="280.3" cy="516.1" r="1.1" fill="#a81a10" opacity="0.6"/>
<circle cx="281.2" cy="517.9" r="1.2" fill="#a81a10" opacity="0.6"/>
<circle cx="284.6" cy="514.4" r="1.8" fill="#a81a10" opacity="0.6"/>
</g>
<rect x="280.79999999999995" y="510.5" width="9.2" height="6.5" fill="#4a0806" opacity="0.2" filter="url(#bl07)"/>
<rect x="280.29999999999995" y="510.0" width="10.2" height="7.5" fill="none" stroke="#e4e4e4" stroke-width="0.75"/>
<text x="302.7" y="493.6" font-size="9.0" font-weight="bold" text-anchor="end" fill="#f6f6f6">11.5 min</text>
<rect x="306.48" y="485.1" width="44.6" height="53.8" fill="#070707"/>
<path d="M317.38 513.4 C316.88 506.4 324.88 503.4 332.88 503.4 C340.88 503.4 346.88 507.9 346.88 514.9 C346.88 520.9 340.88 523.4 334.88 523.4 C331.88 523.4 329.88 521.9 326.88 522.4 C321.88 523.9 317.38 518.9 317.38 513.4 Z" fill="url(#nucA)" filter="url(#bl1)"/>
<g filter="url(#bl1)">
<circle cx="333.4" cy="511.2" r="1.4" fill="#f02c24" opacity="0.8"/>
<circle cx="332.5" cy="511.6" r="2.1" fill="#f02c24" opacity="0.8"/>
<circle cx="324.0" cy="512.8" r="2.1" fill="#f02c24" opacity="0.8"/>
<circle cx="332.8" cy="511.8" r="1.9" fill="#f02c24" opacity="0.8"/>
<circle cx="332.7" cy="512.8" r="2.1" fill="#f02c24" opacity="0.8"/>
<circle cx="331.6" cy="515.5" r="1.9" fill="#f02c24" opacity="0.8"/>
<circle cx="328.8" cy="514.6" r="1.3" fill="#a81a10" opacity="0.6"/>
<circle cx="325.9" cy="510.9" r="1.2" fill="#a81a10" opacity="0.6"/>
<circle cx="332.3" cy="512.2" r="1.3" fill="#a81a10" opacity="0.6"/>
</g>
<rect x="327.68" y="510.0" width="10.2" height="7.5" fill="none" stroke="#e4e4e4" stroke-width="0.75"/>
<text x="349.28000000000003" y="493.6" font-size="9.0" font-weight="bold" text-anchor="end" fill="#f6f6f6">15 min</text>
<rect x="353.06" y="485.1" width="44.6" height="53.8" fill="#070707"/>
<path d="M363.96 513.4 C363.46 506.4 371.46 503.4 379.46 503.4 C387.46 503.4 393.46 507.9 393.46 514.9 C393.46 520.9 387.46 523.4 381.46 523.4 C378.46 523.4 376.46 521.9 373.46 522.4 C368.46 523.9 363.96 518.9 363.96 513.4 Z" fill="url(#nucA)" filter="url(#bl1)"/>
<g filter="url(#bl1)">
<circle cx="387.0" cy="514.0" r="1.7" fill="#f02c24" opacity="0.8"/>
<circle cx="378.9" cy="513.8" r="1.4" fill="#f02c24" opacity="0.8"/>
<circle cx="380.5" cy="510.6" r="1.3" fill="#f02c24" opacity="0.8"/>
<circle cx="382.3" cy="518.4" r="1.3" fill="#f02c24" opacity="0.8"/>
<circle cx="381.4" cy="512.3" r="1.7" fill="#f02c24" opacity="0.8"/>
<circle cx="383.6" cy="509.8" r="1.5" fill="#f02c24" opacity="0.8"/>
<circle cx="376.2" cy="510.9" r="1.5" fill="#a81a10" opacity="0.6"/>
<circle cx="378.2" cy="517.8" r="1.1" fill="#a81a10" opacity="0.6"/>
<circle cx="379.1" cy="511.6" r="1.3" fill="#a81a10" opacity="0.6"/>
</g>
<rect x="373.76" y="510.5" width="9.2" height="6.5" fill="#4a0806" opacity="0.2" filter="url(#bl07)"/>
<rect x="373.26" y="510.0" width="10.2" height="7.5" fill="none" stroke="#e4e4e4" stroke-width="0.75"/>
<text x="395.86" y="493.6" font-size="9.0" font-weight="bold" text-anchor="end" fill="#f6f6f6">16.5 min</text>
<rect x="399.64" y="485.1" width="44.6" height="53.8" fill="#070707"/>
<path d="M410.53999999999996 513.4 C410.03999999999996 506.4 418.03999999999996 503.4 426.03999999999996 503.4 C434.03999999999996 503.4 440.03999999999996 507.9 440.03999999999996 514.9 C440.03999999999996 520.9 434.03999999999996 523.4 428.03999999999996 523.4 C425.03999999999996 523.4 423.03999999999996 521.9 420.03999999999996 522.4 C415.03999999999996 523.9 410.53999999999996 518.9 410.53999999999996 513.4 Z" fill="url(#nucA)" filter="url(#bl1)"/>
<g filter="url(#bl1)">
<circle cx="424.1" cy="517.7" r="1.8" fill="#f02c24" opacity="0.8"/>
<circle cx="423.1" cy="515.6" r="1.6" fill="#f02c24" opacity="0.8"/>
<circle cx="424.3" cy="518.0" r="2.3" fill="#f02c24" opacity="0.8"/>
<circle cx="432.0" cy="515.6" r="2.0" fill="#f02c24" opacity="0.8"/>
<circle cx="426.0" cy="513.6" r="2.2" fill="#f02c24" opacity="0.8"/>
<circle cx="432.5" cy="509.4" r="1.5" fill="#f02c24" opacity="0.8"/>
<circle cx="421.2" cy="514.4" r="1.4" fill="#a81a10" opacity="0.6"/>
<circle cx="432.5" cy="509.9" r="1.3" fill="#a81a10" opacity="0.6"/>
<circle cx="425.7" cy="514.8" r="1.2" fill="#a81a10" opacity="0.6"/>
</g>
<rect x="419.34" y="510.0" width="10.2" height="7.5" fill="none" stroke="#e4e4e4" stroke-width="0.75"/>
<text x="442.44" y="493.6" font-size="9.0" font-weight="bold" text-anchor="end" fill="#f6f6f6">20 min</text>
<line x1="430.74" y1="536.9" x2="442.74" y2="536.9" stroke="#e0e0e0" stroke-width="1.6"/>
<rect x="27.60" y="545.9" width="44.4" height="53.3" fill="#070707"/>
<path d="M32.5 574.4 C32.1 568.4 37.1 561.9 45.1 561.9 C53.1 561.9 61.1 568.4 65.1 575.4 C67.1 580.4 64.1 584.4 57.1 583.9 C48.1 583.4 34.1 582.4 32.5 574.4 Z" fill="url(#nucA)" filter="url(#bl1)"/>
<g filter="url(#bl1)">
<circle cx="53.1" cy="569.8" r="1.8" fill="#f02c24" opacity="0.8"/>
<circle cx="44.8" cy="576.8" r="2.3" fill="#f02c24" opacity="0.8"/>
<circle cx="51.4" cy="572.7" r="2.0" fill="#f02c24" opacity="0.8"/>
<circle cx="42.7" cy="578.1" r="1.4" fill="#f02c24" opacity="0.8"/>
<circle cx="53.7" cy="574.0" r="1.4" fill="#f02c24" opacity="0.8"/>
<circle cx="56.6" cy="572.7" r="1.8" fill="#f02c24" opacity="0.8"/>
<circle cx="46.0" cy="572.4" r="1.2" fill="#a81a10" opacity="0.6"/>
<circle cx="47.1" cy="577.1" r="1.2" fill="#a81a10" opacity="0.6"/>
<circle cx="55.1" cy="573.3" r="1.6" fill="#a81a10" opacity="0.6"/>
</g>
<text x="70.2" y="554.4" font-size="9.0" font-weight="bold" text-anchor="end" fill="#f6f6f6">0 min</text>
<rect x="74.15" y="545.9" width="44.4" height="53.3" fill="#070707"/>
<path d="M79.05000000000001 574.4 C78.65 568.4 83.65 561.9 91.65 561.9 C99.65 561.9 107.65 568.4 111.65 575.4 C113.65 580.4 110.65 584.4 103.65 583.9 C94.65 583.4 80.65 582.4 79.05000000000001 574.4 Z" fill="url(#nucA)" filter="url(#bl1)"/>
<g filter="url(#bl1)">
<circle cx="87.9" cy="577.9" r="1.6" fill="#f02c24" opacity="0.8"/>
<circle cx="93.6" cy="571.7" r="1.6" fill="#f02c24" opacity="0.8"/>
<circle cx="94.1" cy="577.9" r="1.9" fill="#f02c24" opacity="0.8"/>
<circle cx="86.8" cy="575.0" r="2.0" fill="#f02c24" opacity="0.8"/>
<circle cx="87.6" cy="568.7" r="1.9" fill="#f02c24" opacity="0.8"/>
<circle cx="90.3" cy="571.7" r="1.6" fill="#f02c24" opacity="0.8"/>
<circle cx="94.0" cy="574.3" r="1.7" fill="#a81a10" opacity="0.6"/>
<circle cx="99.0" cy="572.7" r="1.2" fill="#a81a10" opacity="0.6"/>
<circle cx="93.1" cy="573.2" r="1.0" fill="#a81a10" opacity="0.6"/>
</g>
<rect x="85.75" y="569.4" width="13.6" height="9.600000000000001" fill="#4a0806" opacity="0.42" filter="url(#bl07)"/>
<rect x="85.25" y="568.9" width="14.6" height="10.600000000000001" fill="none" stroke="#e4e4e4" stroke-width="0.75"/>
<text x="116.75000000000001" y="554.4" font-size="9.0" font-weight="bold" text-anchor="end" fill="#f6f6f6">1.5 min</text>
<rect x="120.70" y="545.9" width="44.4" height="53.3" fill="#070707"/>
<path d="M125.6 574.4 C125.19999999999999 568.4 130.2 561.9 138.2 561.9 C146.2 561.9 154.2 568.4 158.2 575.4 C160.2 580.4 157.2 584.4 150.2 583.9 C141.2 583.4 127.19999999999999 582.4 125.6 574.4 Z" fill="url(#nucA)" filter="url(#bl1)"/>
<g filter="url(#bl1)">
<circle cx="151.1" cy="574.9" r="1.3" fill="#f02c24" opacity="0.8"/>
<circle cx="145.0" cy="572.2" r="2.0" fill="#f02c24" opacity="0.8"/>
<circle cx="141.9" cy="574.2" r="2.2" fill="#f02c24" opacity="0.8"/>
<circle cx="146.4" cy="573.3" r="1.7" fill="#f02c24" opacity="0.8"/>
<circle cx="149.7" cy="573.4" r="1.8" fill="#f02c24" opacity="0.8"/>
<circle cx="144.9" cy="574.3" r="2.2" fill="#f02c24" opacity="0.8"/>
<circle cx="145.4" cy="570.9" r="1.7" fill="#a81a10" opacity="0.6"/>
<circle cx="147.4" cy="574.7" r="1.3" fill="#a81a10" opacity="0.6"/>
<circle cx="144.3" cy="569.7" r="1.4" fill="#a81a10" opacity="0.6"/>
</g>
<rect x="133.79999999999998" y="568.3" width="14.6" height="10.600000000000001" fill="none" stroke="#e4e4e4" stroke-width="0.75"/>
<text x="163.29999999999998" y="554.4" font-size="9.0" font-weight="bold" text-anchor="end" fill="#f6f6f6">5 min</text>
<rect x="167.25" y="545.9" width="44.4" height="53.3" fill="#070707"/>
<path d="M172.14999999999998 574.4 C171.74999999999997 568.4 176.74999999999997 561.9 184.74999999999997 561.9 C192.74999999999997 561.9 200.74999999999997 568.4 204.74999999999997 575.4 C206.74999999999997 580.4 203.74999999999997 584.4 196.74999999999997 583.9 C187.74999999999997 583.4 173.74999999999997 582.4 172.14999999999998 574.4 Z" fill="url(#nucA)" filter="url(#bl1)"/>
<g filter="url(#bl1)">
<circle cx="181.4" cy="576.2" r="1.4" fill="#f02c24" opacity="0.8"/>
<circle cx="186.6" cy="578.0" r="1.5" fill="#f02c24" opacity="0.8"/>
<circle cx="185.3" cy="568.8" r="1.9" fill="#f02c24" opacity="0.8"/>
<circle cx="188.5" cy="576.9" r="1.4" fill="#f02c24" opacity="0.8"/>
<circle cx="188.6" cy="576.6" r="2.0" fill="#f02c24" opacity="0.8"/>
<circle cx="195.5" cy="572.9" r="2.2" fill="#f02c24" opacity="0.8"/>
<circle cx="188.7" cy="575.8" r="1.6" fill="#a81a10" opacity="0.6"/>
<circle cx="188.7" cy="574.9" r="1.4" fill="#a81a10" opacity="0.6"/>
<circle cx="192.6" cy="571.7" r="1.0" fill="#a81a10" opacity="0.6"/>
</g>
<rect x="181.44999999999996" y="568.0" width="13.599999999999998" height="9.600000000000001" fill="#4a0806" opacity="0.42" filter="url(#bl07)"/>
<rect x="180.94999999999996" y="567.5" width="14.599999999999998" height="10.600000000000001" fill="none" stroke="#e4e4e4" stroke-width="0.75"/>
<text x="209.84999999999997" y="554.4" font-size="9.0" font-weight="bold" text-anchor="end" fill="#f6f6f6">6.5 min</text>
<rect x="213.80" y="545.9" width="44.4" height="53.3" fill="#070707"/>
<path d="M218.7 574.4 C218.29999999999998 568.4 223.29999999999998 561.9 231.29999999999998 561.9 C239.29999999999998 561.9 247.29999999999998 568.4 251.29999999999998 575.4 C253.29999999999998 580.4 250.29999999999998 584.4 243.29999999999998 583.9 C234.29999999999998 583.4 220.29999999999998 582.4 218.7 574.4 Z" fill="url(#nucA)" filter="url(#bl1)"/>
<g filter="url(#bl1)">
<circle cx="233.1" cy="575.4" r="1.8" fill="#f02c24" opacity="0.8"/>
<circle cx="239.3" cy="572.7" r="1.6" fill="#f02c24" opacity="0.8"/>
<circle cx="231.9" cy="578.3" r="2.2" fill="#f02c24" opacity="0.8"/>
<circle cx="232.7" cy="578.3" r="2.0" fill="#f02c24" opacity="0.8"/>
<circle cx="231.9" cy="568.7" r="1.6" fill="#f02c24" opacity="0.8"/>
<circle cx="242.3" cy="577.2" r="2.0" fill="#f02c24" opacity="0.8"/>
<circle cx="237.1" cy="574.9" r="1.6" fill="#a81a10" opacity="0.6"/>
<circle cx="237.0" cy="572.1" r="1.1" fill="#a81a10" opacity="0.6"/>
<circle cx="233.6" cy="573.3" r="1.1" fill="#a81a10" opacity="0.6"/>
</g>
<rect x="227.6" y="567.5" width="14.599999999999998" height="10.600000000000001" fill="none" stroke="#e4e4e4" stroke-width="0.75"/>
<text x="256.4" y="554.4" font-size="9.0" font-weight="bold" text-anchor="end" fill="#f6f6f6">10 min</text>
<rect x="260.35" y="545.9" width="44.4" height="53.3" fill="#070707"/>
<path d="M265.25 574.4 C264.85 568.4 269.85 561.9 277.85 561.9 C285.85 561.9 293.85 568.4 297.85 575.4 C299.85 580.4 296.85 584.4 289.85 583.9 C280.85 583.4 266.85 582.4 265.25 574.4 Z" fill="url(#nucA)" filter="url(#bl1)"/>
<g filter="url(#bl1)">
<circle cx="287.9" cy="572.2" r="2.0" fill="#f02c24" opacity="0.8"/>
<circle cx="280.4" cy="569.4" r="1.8" fill="#f02c24" opacity="0.8"/>
<circle cx="273.9" cy="570.1" r="1.4" fill="#f02c24" opacity="0.8"/>
<circle cx="274.6" cy="575.9" r="1.4" fill="#f02c24" opacity="0.8"/>
<circle cx="276.7" cy="569.9" r="2.3" fill="#f02c24" opacity="0.8"/>
<circle cx="285.2" cy="573.4" r="2.1" fill="#f02c24" opacity="0.8"/>
<circle cx="283.1" cy="577.2" r="1.7" fill="#a81a10" opacity="0.6"/>
<circle cx="274.5" cy="570.5" r="1.2" fill="#a81a10" opacity="0.6"/>
<circle cx="280.5" cy="570.9" r="1.1" fill="#a81a10" opacity="0.6"/>
</g>
<rect x="274.85" y="568.4" width="13.600000000000001" height="9.600000000000001" fill="#4a0806" opacity="0.42" filter="url(#bl07)"/>
<rect x="274.35" y="567.9" width="14.600000000000001" height="10.600000000000001" fill="none" stroke="#e4e4e4" stroke-width="0.75"/>
<text x="302.95" y="554.4" font-size="9.0" font-weight="bold" text-anchor="end" fill="#f6f6f6">11.5 min</text>
<rect x="306.90" y="545.9" width="44.4" height="53.3" fill="#070707"/>
<path d="M311.79999999999995 574.4 C311.4 568.4 316.4 561.9 324.4 561.9 C332.4 561.9 340.4 568.4 344.4 575.4 C346.4 580.4 343.4 584.4 336.4 583.9 C327.4 583.4 313.4 582.4 311.79999999999995 574.4 Z" fill="url(#nucA)" filter="url(#bl1)"/>
<g filter="url(#bl1)">
<circle cx="329.9" cy="574.6" r="1.9" fill="#f02c24" opacity="0.8"/>
<circle cx="332.3" cy="571.7" r="1.3" fill="#f02c24" opacity="0.8"/>
<circle cx="333.5" cy="575.7" r="2.2" fill="#f02c24" opacity="0.8"/>
<circle cx="331.6" cy="569.7" r="2.0" fill="#f02c24" opacity="0.8"/>
<circle cx="322.3" cy="576.1" r="1.4" fill="#f02c24" opacity="0.8"/>
<circle cx="319.7" cy="576.1" r="2.3" fill="#f02c24" opacity="0.8"/>
<circle cx="335.0" cy="571.3" r="1.6" fill="#a81a10" opacity="0.6"/>
<circle cx="330.5" cy="573.2" r="1.7" fill="#a81a10" opacity="0.6"/>
<circle cx="328.8" cy="574.3" r="1.0" fill="#a81a10" opacity="0.6"/>
</g>
<rect x="321.2" y="568.0" width="14.599999999999998" height="10.600000000000001" fill="none" stroke="#e4e4e4" stroke-width="0.75"/>
<text x="349.49999999999994" y="554.4" font-size="9.0" font-weight="bold" text-anchor="end" fill="#f6f6f6">15 min</text>
<rect x="353.45" y="545.9" width="44.4" height="53.3" fill="#070707"/>
<path d="M358.34999999999997 574.4 C357.95 568.4 362.95 561.9 370.95 561.9 C378.95 561.9 386.95 568.4 390.95 575.4 C392.95 580.4 389.95 584.4 382.95 583.9 C373.95 583.4 359.95 582.4 358.34999999999997 574.4 Z" fill="url(#nucA)" filter="url(#bl1)"/>
<g filter="url(#bl1)">
<circle cx="378.1" cy="575.8" r="1.7" fill="#f02c24" opacity="0.8"/>
<circle cx="366.7" cy="570.6" r="2.0" fill="#f02c24" opacity="0.8"/>
<circle cx="380.4" cy="569.4" r="2.0" fill="#f02c24" opacity="0.8"/>
<circle cx="379.8" cy="575.1" r="1.2" fill="#f02c24" opacity="0.8"/>
<circle cx="374.0" cy="570.1" r="1.6" fill="#f02c24" opacity="0.8"/>
<circle cx="375.9" cy="575.7" r="2.4" fill="#f02c24" opacity="0.8"/>
<circle cx="376.1" cy="573.4" r="1.3" fill="#a81a10" opacity="0.6"/>
<circle cx="377.6" cy="576.8" r="1.3" fill="#a81a10" opacity="0.6"/>
<circle cx="381.8" cy="569.8" r="1.3" fill="#a81a10" opacity="0.6"/>
</g>
<rect x="366.75" y="568.1999999999999" width="13.599999999999998" height="9.599999999999998" fill="#4a0806" opacity="0.42" filter="url(#bl07)"/>
<rect x="366.25" y="567.6999999999999" width="14.599999999999998" height="10.599999999999998" fill="none" stroke="#e4e4e4" stroke-width="0.75"/>
<text x="396.04999999999995" y="554.4" font-size="9.0" font-weight="bold" text-anchor="end" fill="#f6f6f6">16.5 min</text>
<rect x="400.00" y="545.9" width="44.4" height="53.3" fill="#070707"/>
<path d="M404.9 574.4 C404.5 568.4 409.5 561.9 417.5 561.9 C425.5 561.9 433.5 568.4 437.5 575.4 C439.5 580.4 436.5 584.4 429.5 583.9 C420.5 583.4 406.5 582.4 404.9 574.4 Z" fill="url(#nucA)" filter="url(#bl1)"/>
<g filter="url(#bl1)">
<circle cx="415.9" cy="569.7" r="1.7" fill="#f02c24" opacity="0.8"/>
<circle cx="413.5" cy="577.4" r="1.9" fill="#f02c24" opacity="0.8"/>
<circle cx="423.8" cy="577.8" r="2.1" fill="#f02c24" opacity="0.8"/>
<circle cx="420.9" cy="574.4" r="1.3" fill="#f02c24" opacity="0.8"/>
<circle cx="413.3" cy="576.9" r="2.0" fill="#f02c24" opacity="0.8"/>
<circle cx="418.2" cy="576.5" r="1.3" fill="#f02c24" opacity="0.8"/>
<circle cx="425.3" cy="575.4" r="1.7" fill="#a81a10" opacity="0.6"/>
<circle cx="424.6" cy="570.6" r="1.7" fill="#a81a10" opacity="0.6"/>
<circle cx="422.1" cy="569.6" r="1.8" fill="#a81a10" opacity="0.6"/>
</g>
<rect x="411.2" y="567.6999999999999" width="14.599999999999998" height="10.599999999999998" fill="none" stroke="#e4e4e4" stroke-width="0.75"/>
<text x="442.59999999999997" y="554.4" font-size="9.0" font-weight="bold" text-anchor="end" fill="#f6f6f6">20 min</text>
<line x1="429.4" y1="595.9" x2="442.9" y2="595.9" stroke="#e0e0e0" stroke-width="1.6"/>
<rect x="27.70" y="606.0" width="44.6" height="53.2" fill="#070707"/>
<path d="M40.6 634.5 C40.6 627.0 47.5 623.3 55.0 623.3 C62.5 623.3 68.4 628.0 68.4 634.5 C68.4 640.5 61.5 643.7 54.5 643.7 C47.5 643.7 40.6 640.5 40.6 634.5 Z" fill="url(#nucC)" filter="url(#bl1)"/>
<g filter="url(#bl07)">
<ellipse cx="52.2" cy="631.0" rx="3.2" ry="2.4" fill="#f02a1a"/>
<ellipse cx="63.2" cy="629.5" rx="2.2" ry="1.8" fill="#f02a1a"/>
<ellipse cx="45.7" cy="634.0" rx="1.8" ry="2.8" fill="#f02a1a"/>
<ellipse cx="59.8" cy="637.1" rx="2.8" ry="2.0" fill="#f02a1a"/>
<ellipse cx="54.9" cy="639.5" rx="1.8" ry="1.2" fill="#f02a1a"/>
<ellipse cx="48.6" cy="639.0" rx="1.8" ry="1.4" fill="#f02a1a"/>
<ellipse cx="56.5" cy="626.5" rx="1.6" ry="1.2" fill="#f02a1a"/>
<ellipse cx="50.2" cy="636.0" rx="1.3" ry="1.3" fill="#f02a1a"/>
<ellipse cx="64.8" cy="636.0" rx="1.2" ry="1.6" fill="#f02a1a"/>
</g>
<text x="70.5" y="614.5" font-size="9.0" font-weight="bold" text-anchor="end" fill="#f6f6f6">0 min</text>
<rect x="74.44" y="606.0" width="44.6" height="53.2" fill="#070707"/>
<path d="M87.33999999999999 634.5 C87.33999999999999 627.0 94.24 623.3 101.74 623.3 C109.24 623.3 115.14 628.0 115.14 634.5 C115.14 640.5 108.24 643.7 101.24 643.7 C94.24 643.7 87.33999999999999 640.5 87.33999999999999 634.5 Z" fill="url(#nucC)" filter="url(#bl1)"/>
<g filter="url(#bl07)">
<ellipse cx="98.7" cy="631.0" rx="3.2" ry="2.4" fill="#f02a1a"/>
<ellipse cx="110.0" cy="629.5" rx="2.2" ry="1.8" fill="#f02a1a"/>
<ellipse cx="92.1" cy="634.0" rx="1.8" ry="2.8" fill="#f02a1a"/>
<ellipse cx="106.4" cy="637.1" rx="2.8" ry="2.0" fill="#f02a1a"/>
<ellipse cx="101.7" cy="639.5" rx="1.8" ry="1.2" fill="#f02a1a"/>
<ellipse cx="95.6" cy="639.0" rx="1.8" ry="1.4" fill="#f02a1a"/>
<ellipse cx="103.4" cy="626.5" rx="1.6" ry="1.2" fill="#f02a1a"/>
<ellipse cx="96.7" cy="636.0" rx="1.3" ry="1.3" fill="#f02a1a"/>
<ellipse cx="112.0" cy="636.0" rx="1.2" ry="1.6" fill="#f02a1a"/>
</g>
<rect x="101.64" y="629.4" width="9.400000000000002" height="8.600000000000001" fill="#4a0806" opacity="0.42" filter="url(#bl07)"/>
<rect x="101.14" y="628.9" width="10.400000000000002" height="9.600000000000001" fill="none" stroke="#e4e4e4" stroke-width="0.75"/>
<text x="117.24" y="614.5" font-size="9.0" font-weight="bold" text-anchor="end" fill="#f6f6f6">1.5 min</text>
<rect x="121.18" y="606.0" width="44.6" height="53.2" fill="#070707"/>
<path d="M134.08 634.5 C134.08 627.0 140.98000000000002 623.3 148.48000000000002 623.3 C155.98000000000002 623.3 161.88000000000002 628.0 161.88000000000002 634.5 C161.88000000000002 640.5 154.98000000000002 643.7 147.98000000000002 643.7 C140.98000000000002 643.7 134.08 640.5 134.08 634.5 Z" fill="url(#nucC)" filter="url(#bl1)"/>
<g filter="url(#bl07)">
<ellipse cx="145.5" cy="631.0" rx="3.2" ry="2.4" fill="#f02a1a"/>
<ellipse cx="156.3" cy="629.5" rx="2.2" ry="1.8" fill="#f02a1a"/>
<ellipse cx="139.1" cy="634.0" rx="1.8" ry="2.8" fill="#f02a1a"/>
<ellipse cx="153.0" cy="637.1" rx="2.8" ry="2.0" fill="#f02a1a"/>
<ellipse cx="148.3" cy="639.5" rx="1.8" ry="1.2" fill="#f02a1a"/>
<ellipse cx="141.6" cy="639.0" rx="1.8" ry="1.4" fill="#f02a1a"/>
<ellipse cx="149.7" cy="626.5" rx="1.6" ry="1.2" fill="#f02a1a"/>
<ellipse cx="143.3" cy="636.0" rx="1.3" ry="1.3" fill="#f02a1a"/>
<ellipse cx="158.4" cy="636.0" rx="1.2" ry="1.6" fill="#f02a1a"/>
</g>
<rect x="149.88" y="628.9" width="10.400000000000002" height="9.600000000000001" fill="none" stroke="#e4e4e4" stroke-width="0.75"/>
<text x="163.98" y="614.5" font-size="9.0" font-weight="bold" text-anchor="end" fill="#f6f6f6">5 min</text>
<rect x="167.92" y="606.0" width="44.6" height="53.2" fill="#070707"/>
<path d="M180.82 634.5 C180.82 627.0 187.72 623.3 195.22 623.3 C202.72 623.3 208.62 628.0 208.62 634.5 C208.62 640.5 201.72 643.7 194.72 643.7 C187.72 643.7 180.82 640.5 180.82 634.5 Z" fill="url(#nucC)" filter="url(#bl1)"/>
<g filter="url(#bl07)">
<ellipse cx="192.7" cy="631.0" rx="3.2" ry="2.4" fill="#f02a1a"/>
<ellipse cx="202.9" cy="629.5" rx="2.2" ry="1.8" fill="#f02a1a"/>
<ellipse cx="185.5" cy="634.0" rx="1.8" ry="2.8" fill="#f02a1a"/>
<ellipse cx="199.8" cy="637.1" rx="2.8" ry="2.0" fill="#f02a1a"/>
<ellipse cx="195.4" cy="639.5" rx="1.8" ry="1.2" fill="#f02a1a"/>
<ellipse cx="188.8" cy="639.0" rx="1.8" ry="1.4" fill="#f02a1a"/>
<ellipse cx="196.8" cy="626.5" rx="1.6" ry="1.2" fill="#f02a1a"/>
<ellipse cx="190.2" cy="636.0" rx="1.3" ry="1.3" fill="#f02a1a"/>
<ellipse cx="205.2" cy="636.0" rx="1.2" ry="1.6" fill="#f02a1a"/>
</g>
<rect x="195.92" y="629.4" width="9.399999999999999" height="8.600000000000001" fill="#4a0806" opacity="0.42" filter="url(#bl07)"/>
<rect x="195.42" y="628.9" width="10.399999999999999" height="9.600000000000001" fill="none" stroke="#e4e4e4" stroke-width="0.75"/>
<text x="210.71999999999997" y="614.5" font-size="9.0" font-weight="bold" text-anchor="end" fill="#f6f6f6">6.5 min</text>
<rect x="214.66" y="606.0" width="44.6" height="53.2" fill="#070707"/>
<path d="M227.56 634.5 C227.56 627.0 234.46 623.3 241.96 623.3 C249.46 623.3 255.36 628.0 255.36 634.5 C255.36 640.5 248.46 643.7 241.46 643.7 C234.46 643.7 227.56 640.5 227.56 634.5 Z" fill="url(#nucC)" filter="url(#bl1)"/>
<g filter="url(#bl07)">
<ellipse cx="238.9" cy="631.0" rx="3.2" ry="2.4" fill="#f02a1a"/>
<ellipse cx="250.3" cy="629.5" rx="2.2" ry="1.8" fill="#f02a1a"/>
<ellipse cx="232.2" cy="634.0" rx="1.8" ry="2.8" fill="#f02a1a"/>
<ellipse cx="246.5" cy="637.1" rx="2.8" ry="2.0" fill="#f02a1a"/>
<ellipse cx="241.7" cy="639.5" rx="1.8" ry="1.2" fill="#f02a1a"/>
<ellipse cx="235.6" cy="639.0" rx="1.8" ry="1.4" fill="#f02a1a"/>
<ellipse cx="243.3" cy="626.5" rx="1.6" ry="1.2" fill="#f02a1a"/>
<ellipse cx="237.2" cy="636.0" rx="1.3" ry="1.3" fill="#f02a1a"/>
<ellipse cx="251.7" cy="636.0" rx="1.2" ry="1.6" fill="#f02a1a"/>
</g>
<rect x="244.16" y="628.9" width="10.399999999999999" height="9.600000000000001" fill="none" stroke="#e4e4e4" stroke-width="0.75"/>
<text x="257.46" y="614.5" font-size="9.0" font-weight="bold" text-anchor="end" fill="#f6f6f6">10 min</text>
<rect x="261.40" y="606.0" width="44.6" height="53.2" fill="#070707"/>
<path d="M274.30000000000007 634.5 C274.30000000000007 627.0 281.20000000000005 623.3 288.70000000000005 623.3 C296.20000000000005 623.3 302.1 628.0 302.1 634.5 C302.1 640.5 295.20000000000005 643.7 288.20000000000005 643.7 C281.20000000000005 643.7 274.30000000000007 640.5 274.30000000000007 634.5 Z" fill="url(#nucC)" filter="url(#bl1)"/>
<g filter="url(#bl07)">
<ellipse cx="285.6" cy="631.0" rx="3.2" ry="2.4" fill="#f02a1a"/>
<ellipse cx="296.8" cy="629.5" rx="2.2" ry="1.8" fill="#f02a1a"/>
<ellipse cx="278.7" cy="634.0" rx="1.8" ry="2.8" fill="#f02a1a"/>
<ellipse cx="293.4" cy="637.1" rx="2.8" ry="2.0" fill="#f02a1a"/>
<ellipse cx="288.5" cy="639.5" rx="1.8" ry="1.2" fill="#f02a1a"/>
<ellipse cx="282.3" cy="639.0" rx="1.8" ry="1.4" fill="#f02a1a"/>
<ellipse cx="289.8" cy="626.5" rx="1.6" ry="1.2" fill="#f02a1a"/>
<ellipse cx="283.6" cy="636.0" rx="1.3" ry="1.3" fill="#f02a1a"/>
<ellipse cx="299.0" cy="636.0" rx="1.2" ry="1.6" fill="#f02a1a"/>
</g>
<rect x="290.50000000000006" y="629.4" width="9.399999999999999" height="8.600000000000001" fill="#4a0806" opacity="0.42" filter="url(#bl07)"/>
<rect x="290.00000000000006" y="628.9" width="10.399999999999999" height="9.600000000000001" fill="none" stroke="#e4e4e4" stroke-width="0.75"/>
<text x="304.20000000000005" y="614.5" font-size="9.0" font-weight="bold" text-anchor="end" fill="#f6f6f6">11.5 min</text>
<rect x="308.14" y="606.0" width="44.6" height="53.2" fill="#070707"/>
<path d="M321.04 634.5 C321.04 627.0 327.94 623.3 335.44 623.3 C342.94 623.3 348.84 628.0 348.84 634.5 C348.84 640.5 341.94 643.7 334.94 643.7 C327.94 643.7 321.04 640.5 321.04 634.5 Z" fill="url(#nucC)" filter="url(#bl1)"/>
<g filter="url(#bl07)">
<ellipse cx="332.4" cy="631.0" rx="3.2" ry="2.4" fill="#f02a1a"/>
<ellipse cx="343.5" cy="629.5" rx="2.2" ry="1.8" fill="#f02a1a"/>
<ellipse cx="325.6" cy="634.0" rx="1.8" ry="2.8" fill="#f02a1a"/>
<ellipse cx="339.8" cy="637.1" rx="2.8" ry="2.0" fill="#f02a1a"/>
<ellipse cx="335.1" cy="639.5" rx="1.8" ry="1.2" fill="#f02a1a"/>
<ellipse cx="329.0" cy="639.0" rx="1.8" ry="1.4" fill="#f02a1a"/>
<ellipse cx="337.0" cy="626.5" rx="1.6" ry="1.2" fill="#f02a1a"/>
<ellipse cx="330.7" cy="636.0" rx="1.3" ry="1.3" fill="#f02a1a"/>
<ellipse cx="345.2" cy="636.0" rx="1.2" ry="1.6" fill="#f02a1a"/>
</g>
<rect x="336.53999999999996" y="628.9" width="10.399999999999999" height="9.600000000000001" fill="none" stroke="#e4e4e4" stroke-width="0.75"/>
<text x="350.94" y="614.5" font-size="9.0" font-weight="bold" text-anchor="end" fill="#f6f6f6">15 min</text>
<rect x="354.88" y="606.0" width="44.6" height="53.2" fill="#070707"/>
<path d="M367.78000000000003 634.5 C367.78000000000003 627.0 374.68 623.3 382.18 623.3 C389.68 623.3 395.58 628.0 395.58 634.5 C395.58 640.5 388.68 643.7 381.68 643.7 C374.68 643.7 367.78000000000003 640.5 367.78000000000003 634.5 Z" fill="url(#nucC)" filter="url(#bl1)"/>
<g filter="url(#bl07)">
<ellipse cx="379.4" cy="631.0" rx="3.2" ry="2.4" fill="#f02a1a"/>
<ellipse cx="389.9" cy="629.5" rx="2.2" ry="1.8" fill="#f02a1a"/>
<ellipse cx="372.5" cy="634.0" rx="1.8" ry="2.8" fill="#f02a1a"/>
<ellipse cx="386.5" cy="637.1" rx="2.8" ry="2.0" fill="#f02a1a"/>
<ellipse cx="382.0" cy="639.5" rx="1.8" ry="1.2" fill="#f02a1a"/>
<ellipse cx="375.7" cy="639.0" rx="1.8" ry="1.4" fill="#f02a1a"/>
<ellipse cx="383.8" cy="626.5" rx="1.6" ry="1.2" fill="#f02a1a"/>
<ellipse cx="377.1" cy="636.0" rx="1.3" ry="1.3" fill="#f02a1a"/>
<ellipse cx="392.2" cy="636.0" rx="1.2" ry="1.6" fill="#f02a1a"/>
</g>
<rect x="382.18" y="629.4" width="9.400000000000002" height="8.600000000000001" fill="#4a0806" opacity="0.42" filter="url(#bl07)"/>
<rect x="381.68" y="628.9" width="10.400000000000002" height="9.600000000000001" fill="none" stroke="#e4e4e4" stroke-width="0.75"/>
<text x="397.68" y="614.5" font-size="9.0" font-weight="bold" text-anchor="end" fill="#f6f6f6">16.5 min</text>
<rect x="401.62" y="606.0" width="44.6" height="53.2" fill="#070707"/>
<path d="M414.52000000000004 634.5 C414.52000000000004 627.0 421.42 623.3 428.92 623.3 C436.42 623.3 442.32 628.0 442.32 634.5 C442.32 640.5 435.42 643.7 428.42 643.7 C421.42 643.7 414.52000000000004 640.5 414.52000000000004 634.5 Z" fill="url(#nucC)" filter="url(#bl1)"/>
<g filter="url(#bl07)">
<ellipse cx="426.3" cy="631.0" rx="3.2" ry="2.4" fill="#f02a1a"/>
<ellipse cx="436.9" cy="629.5" rx="2.2" ry="1.8" fill="#f02a1a"/>
<ellipse cx="419.4" cy="634.0" rx="1.8" ry="2.8" fill="#f02a1a"/>
<ellipse cx="433.7" cy="637.1" rx="2.8" ry="2.0" fill="#f02a1a"/>
<ellipse cx="429.0" cy="639.5" rx="1.8" ry="1.2" fill="#f02a1a"/>
<ellipse cx="422.4" cy="639.0" rx="1.8" ry="1.4" fill="#f02a1a"/>
<ellipse cx="430.5" cy="626.5" rx="1.6" ry="1.2" fill="#f02a1a"/>
<ellipse cx="424.1" cy="636.0" rx="1.3" ry="1.3" fill="#f02a1a"/>
<ellipse cx="438.7" cy="636.0" rx="1.2" ry="1.6" fill="#f02a1a"/>
</g>
<rect x="429.12" y="628.9" width="10.399999999999999" height="9.600000000000001" fill="none" stroke="#e4e4e4" stroke-width="0.75"/>
<text x="444.42" y="614.5" font-size="9.0" font-weight="bold" text-anchor="end" fill="#f6f6f6">20 min</text>
<line x1="436.22" y1="654.4" x2="444.72" y2="654.4" stroke="#e0e0e0" stroke-width="1.6"/>
<line x1="15.2" y1="487.5" x2="15.2" y2="659.5" stroke="#111" stroke-width="1.1"/>
<line x1="1.1" y1="604.3" x2="15.2" y2="604.3" stroke="#111" stroke-width="1.1"/>
<text x="11.6" y="516.6" font-size="7.75" font-weight="bold" text-anchor="middle" transform="rotate(-90 11.6 516.6)" fill="#111">+<tspan fill="#e8261c">MaP655</tspan>-TMP</text>
<text x="24.2" y="512.4" font-size="7.4" font-weight="bold" text-anchor="middle" fill="#111" transform="rotate(-90 24.2 512.4)">2 µM</text>
<text x="11.4" y="579.2" font-size="7.3" font-weight="bold" text-anchor="middle" fill="#111" transform="rotate(-90 11.4 579.2)">ReTag1</text>
<text x="24.9" y="573.3" font-size="7.5" font-weight="bold" text-anchor="middle" fill="#111" transform="rotate(-90 24.9 573.3)">400 nM</text>
<text x="10.8" y="635.0" font-size="7.3" font-weight="bold" text-anchor="middle" fill="#111" transform="rotate(-90 10.8 635.0)">TMP-Tag</text>
<text x="25.0" y="632.3" font-size="7.5" font-weight="bold" text-anchor="middle" fill="#111" transform="rotate(-90 25.0 632.3)">400 nM</text>
<text x="455.3" y="488.0" font-size="12.5" font-weight="bold" text-anchor="start" fill="#111">j</text>
<rect x="494.0" y="490.3" width="169.60000000000002" height="139.09999999999997" fill="none" stroke="#1a1a1a" stroke-width="1.1"/>
<line x1="490.0" y1="629.4" x2="494.0" y2="629.4" stroke="#1a1a1a" stroke-width="1.1"/>
<text x="488.0" y="632.6" font-size="9.0" font-weight="bold" text-anchor="end" fill="#111">0.0</text>
<line x1="490.0" y1="583.0333333333333" x2="494.0" y2="583.0333333333333" stroke="#1a1a1a" stroke-width="1.1"/>
<text x="488.0" y="586.2333333333333" font-size="9.0" font-weight="bold" text-anchor="end" fill="#111">0.5</text>
<line x1="490.0" y1="536.6666666666666" x2="494.0" y2="536.6666666666666" stroke="#1a1a1a" stroke-width="1.1"/>
<text x="488.0" y="539.8666666666667" font-size="9.0" font-weight="bold" text-anchor="end" fill="#111">1.0</text>
<line x1="490.0" y1="490.3" x2="494.0" y2="490.3" stroke="#1a1a1a" stroke-width="1.1"/>
<text x="488.0" y="493.5" font-size="9.0" font-weight="bold" text-anchor="end" fill="#111">1.5</text>
<line x1="494.0" y1="629.4" x2="494.0" y2="632.9" stroke="#1a1a1a" stroke-width="1.1"/>
<text x="494.0" y="644.3" font-size="8.6" font-weight="bold" text-anchor="middle" fill="#111">0</text>
<line x1="510.96" y1="629.4" x2="510.96" y2="632.9" stroke="#1a1a1a" stroke-width="1.1"/>
<text x="510.96" y="644.3" font-size="8.6" font-weight="bold" text-anchor="middle" fill="#111">2</text>
<line x1="527.92" y1="629.4" x2="527.92" y2="632.9" stroke="#1a1a1a" stroke-width="1.1"/>
<text x="527.92" y="644.3" font-size="8.6" font-weight="bold" text-anchor="middle" fill="#111">4</text>
<line x1="544.88" y1="629.4" x2="544.88" y2="632.9" stroke="#1a1a1a" stroke-width="1.1"/>
<text x="544.88" y="644.3" font-size="8.6" font-weight="bold" text-anchor="middle" fill="#111">6</text>
<line x1="561.84" y1="629.4" x2="561.84" y2="632.9" stroke="#1a1a1a" stroke-width="1.1"/>
<text x="561.84" y="644.3" font-size="8.6" font-weight="bold" text-anchor="middle" fill="#111">8</text>
<line x1="578.8" y1="629.4" x2="578.8" y2="632.9" stroke="#1a1a1a" stroke-width="1.1"/>
<text x="578.8" y="644.3" font-size="8.6" font-weight="bold" text-anchor="middle" fill="#111">10</text>
<line x1="595.76" y1="629.4" x2="595.76" y2="632.9" stroke="#1a1a1a" stroke-width="1.1"/>
<text x="595.76" y="644.3" font-size="8.6" font-weight="bold" text-anchor="middle" fill="#111">12</text>
<line x1="612.72" y1="629.4" x2="612.72" y2="632.9" stroke="#1a1a1a" stroke-width="1.1"/>
<text x="612.72" y="644.3" font-size="8.6" font-weight="bold" text-anchor="middle" fill="#111">14</text>
<line x1="629.6800000000001" y1="629.4" x2="629.6800000000001" y2="632.9" stroke="#1a1a1a" stroke-width="1.1"/>
<text x="629.6800000000001" y="644.3" font-size="8.6" font-weight="bold" text-anchor="middle" fill="#111">16</text>
<line x1="646.64" y1="629.4" x2="646.64" y2="632.9" stroke="#1a1a1a" stroke-width="1.1"/>
<text x="646.64" y="644.3" font-size="8.6" font-weight="bold" text-anchor="middle" fill="#111">18</text>
<line x1="663.6" y1="629.4" x2="663.6" y2="632.9" stroke="#1a1a1a" stroke-width="1.1"/>
<text x="663.6" y="644.3" font-size="8.6" font-weight="bold" text-anchor="middle" fill="#111">20</text>
<text x="579.3" y="659.4" font-size="10.1" font-weight="bold" text-anchor="middle" fill="#111">Time (min)</text>
<text x="468.9" y="559.0" font-size="10.2" font-weight="bold" text-anchor="middle" fill="#111" transform="rotate(-90 468.9 559.0)">Nomalized Fluo. Int.</text>
<path d="M498.24,536.67 L502.48,536.67 L506.55,577.82 L519.44,577.45 L532.16,577.92 L538.94,579.31 L544.03,576.99 L549.29,597.12 L560.99,595.73 L574.56,593.87 L587.28,594.33 L591.52,605.00 L603.39,603.14 L616.96,602.68 L628.83,602.22 L633.92,609.64 L646.64,608.71 L663.60,607.78 L663.60,615.78 L646.64,616.71 L633.92,617.64 L628.83,610.22 L616.96,610.68 L603.39,611.14 L591.52,613.00 L587.28,602.33 L574.56,601.87 L560.99,603.73 L549.29,605.12 L544.03,582.59 L538.94,584.91 L532.16,583.51 L519.44,583.05 L506.55,583.42 L502.48,536.67 L498.24,536.67 Z" fill="#c6c6c8"/>
<path d="M498.24,536.67 L502.48,536.67 L506.55,560.30 L511.38,546.86 L516.90,545.00 L527.92,544.54 L537.25,544.54 L544.03,543.61 L549.29,570.51 L553.19,555.67 L560.99,552.89 L566.93,550.57 L577.10,549.18 L587.28,546.32 L591.27,575.07 L595.76,557.45 L603.39,554.67 L617.81,553.28 L628.83,553.74 L633.92,579.06 L638.16,564.87 L646.64,561.62 L663.60,559.30 L663.60,564.10 L646.64,566.42 L638.16,569.67 L633.92,583.86 L628.83,558.54 L617.81,558.08 L603.39,559.47 L595.76,562.25 L591.27,579.87 L587.28,551.12 L577.10,551.98 L566.93,553.37 L560.99,555.69 L553.19,558.47 L549.29,573.31 L544.03,546.41 L537.25,547.34 L527.92,547.34 L516.90,547.80 L511.38,549.66 L506.55,563.10 L502.48,536.67 L498.24,536.67 Z" fill="#a8aee8"/>
<path d="M498.24,536.67 L502.48,536.67 L506.55,554.94 L511.38,543.81 L516.90,541.03 L527.92,541.03 L530.46,541.96 L531.91,545.67 L533.86,542.89 L536.40,541.96 L540.64,536.86 L544.63,535.93 L549.29,556.00 L553.19,543.94 L560.99,541.16 L570.32,542.09 L584.74,543.01 L587.28,543.01 L590.93,560.63 L595.68,549.50 L603.39,546.26 L614.42,543.48 L628.83,543.01 L633.58,562.02 L638.16,547.57 L646.64,544.79 L663.60,542.00 L663.60,550.80 L646.64,553.59 L638.16,556.37 L633.58,566.02 L628.83,547.01 L614.42,547.48 L603.39,550.26 L595.68,553.50 L590.93,564.63 L587.28,547.01 L584.74,547.01 L570.32,546.09 L560.99,545.16 L553.19,547.94 L549.29,560.00 L544.63,538.33 L540.64,539.26 L536.40,544.36 L533.86,545.29 L531.91,548.07 L530.46,544.36 L527.92,543.43 L516.90,543.43 L511.38,546.21 L506.55,557.34 L502.48,536.67 L498.24,536.67 Z" fill="#f4a0a4"/>
<path d="M498.24,536.67 L502.48,536.67 L506.55,580.62 L519.44,580.25 L532.16,580.72 L538.94,582.11 L544.03,579.79 L549.29,601.12 L560.99,599.73 L574.56,597.87 L587.28,598.33 L591.52,609.00 L603.39,607.14 L616.96,606.68 L628.83,606.22 L633.92,613.64 L646.64,612.71 L663.60,611.78" fill="none" stroke="#8c8c8e" stroke-width="1.4" stroke-linejoin="round"/>
<path d="M498.24,536.67 L502.48,536.67 L506.55,561.70 L511.38,548.26 L516.90,546.40 L527.92,545.94 L537.25,545.94 L544.03,545.01 L549.29,571.91 L553.19,557.07 L560.99,554.29 L566.93,551.97 L577.10,550.58 L587.28,548.72 L591.27,577.47 L595.76,559.85 L603.39,557.07 L617.81,555.68 L628.83,556.14 L633.92,581.46 L638.16,567.27 L646.64,564.02 L663.60,561.70" fill="none" stroke="#4a58cc" stroke-width="1.5" stroke-linejoin="round"/>
<path d="M498.24,536.67 L502.48,536.67 L506.55,556.14 L511.38,545.01 L516.90,542.23 L527.92,542.23 L530.46,543.16 L531.91,546.87 L533.86,544.09 L536.40,543.16 L540.64,538.06 L544.63,537.13 L549.29,558.00 L553.19,545.94 L560.99,543.16 L570.32,544.09 L584.74,545.01 L587.28,545.01 L590.93,562.63 L595.68,551.50 L603.39,548.26 L614.42,545.48 L628.83,545.01 L633.58,564.02 L638.16,551.97 L646.64,549.19 L663.60,546.40" fill="none" stroke="#e8383e" stroke-width="1.5" stroke-linejoin="round"/>
<line x1="497.7" y1="499.4" x2="510.5" y2="499.4" stroke="#e8383e" stroke-width="1.4"/>
<text x="518.0" y="502.4" font-size="8.6" font-weight="bold" text-anchor="start" fill="#111">MaP655-TMP 2 µM (ReTag1)</text>
<line x1="497.7" y1="511.1" x2="510.5" y2="511.1" stroke="#4a58cc" stroke-width="1.4"/>
<text x="518.0" y="514.1" font-size="8.6" font-weight="bold" text-anchor="start" fill="#111">MaP655-TMP 400 nM (ReTag1)</text>
<line x1="497.7" y1="523.4" x2="510.5" y2="523.4" stroke="#98989a" stroke-width="1.4"/>
<text x="518.0" y="526.4" font-size="8.6" font-weight="bold" text-anchor="start" fill="#111">MaP655-TMP 400 nM (TMP-Tag)</text>
<text x="663.2" y="543.8" font-size="8.6" font-weight="bold" text-anchor="end" fill="#111">89.9%</text>
<text x="663.2" y="561.3" font-size="8.6" font-weight="bold" text-anchor="end" fill="#111">72.9%</text>
<text x="663.2" y="608.8" font-size="8.6" font-weight="bold" text-anchor="end" fill="#111">19.7%</text>
</svg>
</body></html>
